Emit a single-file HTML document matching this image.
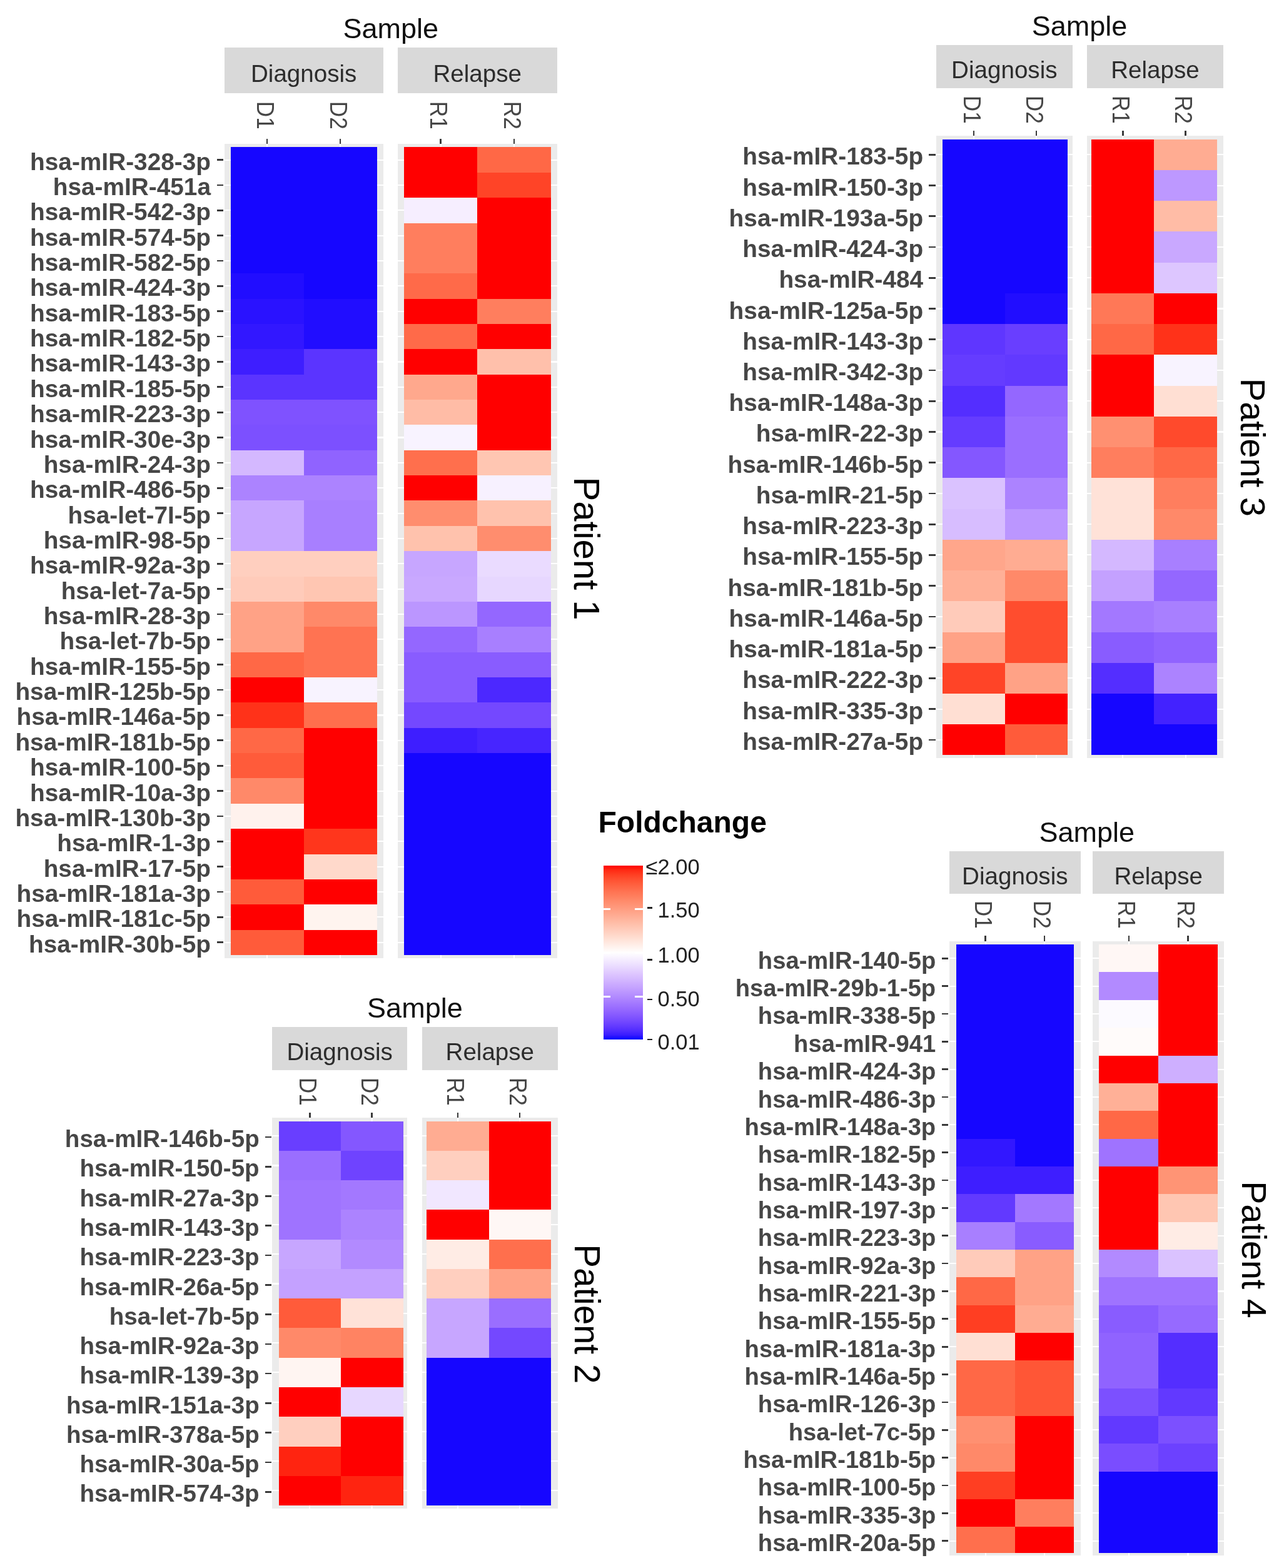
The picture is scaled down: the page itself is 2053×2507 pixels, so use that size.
<!DOCTYPE html>
<html><head><meta charset="utf-8"><title>Foldchange heatmaps</title>
<style>
html,body{margin:0;padding:0;background:#fff;}
body{width:2053px;height:2507px;position:relative;overflow:hidden;font-family:"Liberation Sans",Arial,sans-serif;}
body>div{position:absolute;}
.t{white-space:nowrap;}
</style></head><body>
<div style="left:358.7px;top:76.0px;width:254.0px;height:73.0px;background:#d9d9d9;"></div>
<div class="t" style="left:485.7px;width:0;display:flex;justify-content:center;top:99.3px;font-size:38.6px;line-height:38.6px;color:#2c2c2c;font-weight:normal;">Diagnosis</div>
<div style="left:635.7px;top:76.0px;width:255.1px;height:73.0px;background:#d9d9d9;"></div>
<div class="t" style="left:763.2px;width:0;display:flex;justify-content:center;top:99.3px;font-size:38.6px;line-height:38.6px;color:#2c2c2c;font-weight:normal;">Relapse</div>
<div class="t" style="left:624.8px;width:0;display:flex;justify-content:center;top:23.3px;font-size:45.0px;line-height:45.0px;color:#111;font-weight:normal;">Sample</div>
<div style="left:358.7px;top:230.0px;width:254.0px;height:1301.5px;background:#ebebeb;"></div>
<div style="left:358.7px;top:254.5px;width:254.0px;height:2.2px;background:#ffffff;"></div>
<div style="left:358.7px;top:294.8px;width:254.0px;height:2.2px;background:#ffffff;"></div>
<div style="left:358.7px;top:335.2px;width:254.0px;height:2.2px;background:#ffffff;"></div>
<div style="left:358.7px;top:375.6px;width:254.0px;height:2.2px;background:#ffffff;"></div>
<div style="left:358.7px;top:415.9px;width:254.0px;height:2.2px;background:#ffffff;"></div>
<div style="left:358.7px;top:456.3px;width:254.0px;height:2.2px;background:#ffffff;"></div>
<div style="left:358.7px;top:496.6px;width:254.0px;height:2.2px;background:#ffffff;"></div>
<div style="left:358.7px;top:537.0px;width:254.0px;height:2.2px;background:#ffffff;"></div>
<div style="left:358.7px;top:577.4px;width:254.0px;height:2.2px;background:#ffffff;"></div>
<div style="left:358.7px;top:617.7px;width:254.0px;height:2.2px;background:#ffffff;"></div>
<div style="left:358.7px;top:658.1px;width:254.0px;height:2.2px;background:#ffffff;"></div>
<div style="left:358.7px;top:698.4px;width:254.0px;height:2.2px;background:#ffffff;"></div>
<div style="left:358.7px;top:738.8px;width:254.0px;height:2.2px;background:#ffffff;"></div>
<div style="left:358.7px;top:779.2px;width:254.0px;height:2.2px;background:#ffffff;"></div>
<div style="left:358.7px;top:819.5px;width:254.0px;height:2.2px;background:#ffffff;"></div>
<div style="left:358.7px;top:859.9px;width:254.0px;height:2.2px;background:#ffffff;"></div>
<div style="left:358.7px;top:900.2px;width:254.0px;height:2.2px;background:#ffffff;"></div>
<div style="left:358.7px;top:940.6px;width:254.0px;height:2.2px;background:#ffffff;"></div>
<div style="left:358.7px;top:980.9px;width:254.0px;height:2.2px;background:#ffffff;"></div>
<div style="left:358.7px;top:1021.3px;width:254.0px;height:2.2px;background:#ffffff;"></div>
<div style="left:358.7px;top:1061.7px;width:254.0px;height:2.2px;background:#ffffff;"></div>
<div style="left:358.7px;top:1102.0px;width:254.0px;height:2.2px;background:#ffffff;"></div>
<div style="left:358.7px;top:1142.4px;width:254.0px;height:2.2px;background:#ffffff;"></div>
<div style="left:358.7px;top:1182.7px;width:254.0px;height:2.2px;background:#ffffff;"></div>
<div style="left:358.7px;top:1223.1px;width:254.0px;height:2.2px;background:#ffffff;"></div>
<div style="left:358.7px;top:1263.5px;width:254.0px;height:2.2px;background:#ffffff;"></div>
<div style="left:358.7px;top:1303.8px;width:254.0px;height:2.2px;background:#ffffff;"></div>
<div style="left:358.7px;top:1344.2px;width:254.0px;height:2.2px;background:#ffffff;"></div>
<div style="left:358.7px;top:1384.5px;width:254.0px;height:2.2px;background:#ffffff;"></div>
<div style="left:358.7px;top:1424.9px;width:254.0px;height:2.2px;background:#ffffff;"></div>
<div style="left:358.7px;top:1465.3px;width:254.0px;height:2.2px;background:#ffffff;"></div>
<div style="left:358.7px;top:1505.6px;width:254.0px;height:2.2px;background:#ffffff;"></div>
<div style="left:425.9px;top:230.0px;width:2.2px;height:1301.5px;background:#ffffff;"></div>
<div style="left:543.1px;top:230.0px;width:2.2px;height:1301.5px;background:#ffffff;"></div>
<div style="left:368.5px;top:235.4px;width:117.5px;height:40.8px;background:#1606ff;"></div>
<div style="left:485.6px;top:235.4px;width:117.5px;height:40.8px;background:#1606ff;"></div>
<div style="left:368.5px;top:275.8px;width:117.5px;height:40.8px;background:#1606ff;"></div>
<div style="left:485.6px;top:275.8px;width:117.5px;height:40.8px;background:#1606ff;"></div>
<div style="left:368.5px;top:316.1px;width:117.5px;height:40.8px;background:#1606ff;"></div>
<div style="left:485.6px;top:316.1px;width:117.5px;height:40.8px;background:#1606ff;"></div>
<div style="left:368.5px;top:356.5px;width:117.5px;height:40.8px;background:#1606ff;"></div>
<div style="left:485.6px;top:356.5px;width:117.5px;height:40.8px;background:#1606ff;"></div>
<div style="left:368.5px;top:396.8px;width:117.5px;height:40.8px;background:#1606ff;"></div>
<div style="left:485.6px;top:396.8px;width:117.5px;height:40.8px;background:#1606ff;"></div>
<div style="left:368.5px;top:437.2px;width:117.5px;height:40.8px;background:#210dff;"></div>
<div style="left:485.6px;top:437.2px;width:117.5px;height:40.8px;background:#1606ff;"></div>
<div style="left:368.5px;top:477.6px;width:117.5px;height:40.8px;background:#2a12ff;"></div>
<div style="left:485.6px;top:477.6px;width:117.5px;height:40.8px;background:#210dff;"></div>
<div style="left:368.5px;top:517.9px;width:117.5px;height:40.8px;background:#3217ff;"></div>
<div style="left:485.6px;top:517.9px;width:117.5px;height:40.8px;background:#210dff;"></div>
<div style="left:368.5px;top:558.3px;width:117.5px;height:40.8px;background:#3e1eff;"></div>
<div style="left:485.6px;top:558.3px;width:117.5px;height:40.8px;background:#5b34ff;"></div>
<div style="left:368.5px;top:598.6px;width:117.5px;height:40.8px;background:#5b34ff;"></div>
<div style="left:485.6px;top:598.6px;width:117.5px;height:40.8px;background:#5b34ff;"></div>
<div style="left:368.5px;top:639.0px;width:117.5px;height:40.8px;background:#7f52ff;"></div>
<div style="left:485.6px;top:639.0px;width:117.5px;height:40.8px;background:#7f52ff;"></div>
<div style="left:368.5px;top:679.4px;width:117.5px;height:40.8px;background:#7c50ff;"></div>
<div style="left:485.6px;top:679.4px;width:117.5px;height:40.8px;background:#7c50ff;"></div>
<div style="left:368.5px;top:719.7px;width:117.5px;height:40.8px;background:#d4b8ff;"></div>
<div style="left:485.6px;top:719.7px;width:117.5px;height:40.8px;background:#9063ff;"></div>
<div style="left:368.5px;top:760.1px;width:117.5px;height:40.8px;background:#ac83ff;"></div>
<div style="left:485.6px;top:760.1px;width:117.5px;height:40.8px;background:#ac83ff;"></div>
<div style="left:368.5px;top:800.4px;width:117.5px;height:40.8px;background:#c7a6ff;"></div>
<div style="left:485.6px;top:800.4px;width:117.5px;height:40.8px;background:#a87fff;"></div>
<div style="left:368.5px;top:840.8px;width:117.5px;height:40.8px;background:#c7a6ff;"></div>
<div style="left:485.6px;top:840.8px;width:117.5px;height:40.8px;background:#a87fff;"></div>
<div style="left:368.5px;top:881.1px;width:117.5px;height:40.8px;background:#ffcfbf;"></div>
<div style="left:485.6px;top:881.1px;width:117.5px;height:40.8px;background:#ffcfbf;"></div>
<div style="left:368.5px;top:921.5px;width:117.5px;height:40.8px;background:#ffcbba;"></div>
<div style="left:485.6px;top:921.5px;width:117.5px;height:40.8px;background:#ffc6b2;"></div>
<div style="left:368.5px;top:961.9px;width:117.5px;height:40.8px;background:#ffa286;"></div>
<div style="left:485.6px;top:961.9px;width:117.5px;height:40.8px;background:#ff8969;"></div>
<div style="left:368.5px;top:1002.2px;width:117.5px;height:40.8px;background:#ffa286;"></div>
<div style="left:485.6px;top:1002.2px;width:117.5px;height:40.8px;background:#ff7352;"></div>
<div style="left:368.5px;top:1042.6px;width:117.5px;height:40.8px;background:#ff6846;"></div>
<div style="left:485.6px;top:1042.6px;width:117.5px;height:40.8px;background:#ff7352;"></div>
<div style="left:368.5px;top:1082.9px;width:117.5px;height:40.8px;background:#ff0000;"></div>
<div style="left:485.6px;top:1082.9px;width:117.5px;height:40.8px;background:#f8f3ff;"></div>
<div style="left:368.5px;top:1123.3px;width:117.5px;height:40.8px;background:#ff3219;"></div>
<div style="left:485.6px;top:1123.3px;width:117.5px;height:40.8px;background:#ff6f4d;"></div>
<div style="left:368.5px;top:1163.7px;width:117.5px;height:40.8px;background:#ff6846;"></div>
<div style="left:485.6px;top:1163.7px;width:117.5px;height:40.8px;background:#ff0000;"></div>
<div style="left:368.5px;top:1204.0px;width:117.5px;height:40.8px;background:#ff5b3a;"></div>
<div style="left:485.6px;top:1204.0px;width:117.5px;height:40.8px;background:#ff0000;"></div>
<div style="left:368.5px;top:1244.4px;width:117.5px;height:40.8px;background:#ff8969;"></div>
<div style="left:485.6px;top:1244.4px;width:117.5px;height:40.8px;background:#ff0000;"></div>
<div style="left:368.5px;top:1284.7px;width:117.5px;height:40.8px;background:#fff2ed;"></div>
<div style="left:485.6px;top:1284.7px;width:117.5px;height:40.8px;background:#ff0000;"></div>
<div style="left:368.5px;top:1325.1px;width:117.5px;height:40.8px;background:#ff0000;"></div>
<div style="left:485.6px;top:1325.1px;width:117.5px;height:40.8px;background:#ff361c;"></div>
<div style="left:368.5px;top:1365.5px;width:117.5px;height:40.8px;background:#ff0000;"></div>
<div style="left:485.6px;top:1365.5px;width:117.5px;height:40.8px;background:#ffd9cb;"></div>
<div style="left:368.5px;top:1405.8px;width:117.5px;height:40.8px;background:#ff5b3a;"></div>
<div style="left:485.6px;top:1405.8px;width:117.5px;height:40.8px;background:#ff0000;"></div>
<div style="left:368.5px;top:1446.2px;width:117.5px;height:40.8px;background:#ff0000;"></div>
<div style="left:485.6px;top:1446.2px;width:117.5px;height:40.8px;background:#fff4ef;"></div>
<div style="left:368.5px;top:1486.5px;width:117.5px;height:40.4px;background:#ff5b3a;"></div>
<div style="left:485.6px;top:1486.5px;width:117.5px;height:40.4px;background:#ff0000;"></div>
<div style="left:425.8px;top:221.6px;width:2.6px;height:8.4px;background:#3a3a3a;"></div>
<div class="t" style="left:209.6px;top:174.3px;width:200px;text-align:right;font-size:38.6px;line-height:38.6px;color:#474747;transform-origin:200px 32.67px;transform:rotate(90deg) scaleX(0.910);">D1</div>
<div style="left:542.9px;top:221.6px;width:2.6px;height:8.4px;background:#3a3a3a;"></div>
<div class="t" style="left:326.7px;top:174.3px;width:200px;text-align:right;font-size:38.6px;line-height:38.6px;color:#474747;transform-origin:200px 32.67px;transform:rotate(90deg) scaleX(0.910);">D2</div>
<div style="left:635.7px;top:230.0px;width:255.1px;height:1301.5px;background:#ebebeb;"></div>
<div style="left:635.7px;top:254.5px;width:255.1px;height:2.2px;background:#ffffff;"></div>
<div style="left:635.7px;top:294.8px;width:255.1px;height:2.2px;background:#ffffff;"></div>
<div style="left:635.7px;top:335.2px;width:255.1px;height:2.2px;background:#ffffff;"></div>
<div style="left:635.7px;top:375.6px;width:255.1px;height:2.2px;background:#ffffff;"></div>
<div style="left:635.7px;top:415.9px;width:255.1px;height:2.2px;background:#ffffff;"></div>
<div style="left:635.7px;top:456.3px;width:255.1px;height:2.2px;background:#ffffff;"></div>
<div style="left:635.7px;top:496.6px;width:255.1px;height:2.2px;background:#ffffff;"></div>
<div style="left:635.7px;top:537.0px;width:255.1px;height:2.2px;background:#ffffff;"></div>
<div style="left:635.7px;top:577.4px;width:255.1px;height:2.2px;background:#ffffff;"></div>
<div style="left:635.7px;top:617.7px;width:255.1px;height:2.2px;background:#ffffff;"></div>
<div style="left:635.7px;top:658.1px;width:255.1px;height:2.2px;background:#ffffff;"></div>
<div style="left:635.7px;top:698.4px;width:255.1px;height:2.2px;background:#ffffff;"></div>
<div style="left:635.7px;top:738.8px;width:255.1px;height:2.2px;background:#ffffff;"></div>
<div style="left:635.7px;top:779.2px;width:255.1px;height:2.2px;background:#ffffff;"></div>
<div style="left:635.7px;top:819.5px;width:255.1px;height:2.2px;background:#ffffff;"></div>
<div style="left:635.7px;top:859.9px;width:255.1px;height:2.2px;background:#ffffff;"></div>
<div style="left:635.7px;top:900.2px;width:255.1px;height:2.2px;background:#ffffff;"></div>
<div style="left:635.7px;top:940.6px;width:255.1px;height:2.2px;background:#ffffff;"></div>
<div style="left:635.7px;top:980.9px;width:255.1px;height:2.2px;background:#ffffff;"></div>
<div style="left:635.7px;top:1021.3px;width:255.1px;height:2.2px;background:#ffffff;"></div>
<div style="left:635.7px;top:1061.7px;width:255.1px;height:2.2px;background:#ffffff;"></div>
<div style="left:635.7px;top:1102.0px;width:255.1px;height:2.2px;background:#ffffff;"></div>
<div style="left:635.7px;top:1142.4px;width:255.1px;height:2.2px;background:#ffffff;"></div>
<div style="left:635.7px;top:1182.7px;width:255.1px;height:2.2px;background:#ffffff;"></div>
<div style="left:635.7px;top:1223.1px;width:255.1px;height:2.2px;background:#ffffff;"></div>
<div style="left:635.7px;top:1263.5px;width:255.1px;height:2.2px;background:#ffffff;"></div>
<div style="left:635.7px;top:1303.8px;width:255.1px;height:2.2px;background:#ffffff;"></div>
<div style="left:635.7px;top:1344.2px;width:255.1px;height:2.2px;background:#ffffff;"></div>
<div style="left:635.7px;top:1384.5px;width:255.1px;height:2.2px;background:#ffffff;"></div>
<div style="left:635.7px;top:1424.9px;width:255.1px;height:2.2px;background:#ffffff;"></div>
<div style="left:635.7px;top:1465.3px;width:255.1px;height:2.2px;background:#ffffff;"></div>
<div style="left:635.7px;top:1505.6px;width:255.1px;height:2.2px;background:#ffffff;"></div>
<div style="left:703.6px;top:230.0px;width:2.2px;height:1301.5px;background:#ffffff;"></div>
<div style="left:820.9px;top:230.0px;width:2.2px;height:1301.5px;background:#ffffff;"></div>
<div style="left:646.1px;top:235.4px;width:117.6px;height:40.8px;background:#ff0000;"></div>
<div style="left:763.4px;top:235.4px;width:117.6px;height:40.8px;background:#ff6846;"></div>
<div style="left:646.1px;top:275.8px;width:117.6px;height:40.8px;background:#ff0000;"></div>
<div style="left:763.4px;top:275.8px;width:117.6px;height:40.8px;background:#ff4427;"></div>
<div style="left:646.1px;top:316.1px;width:117.6px;height:40.8px;background:#f6eeff;"></div>
<div style="left:763.4px;top:316.1px;width:117.6px;height:40.8px;background:#ff0000;"></div>
<div style="left:646.1px;top:356.5px;width:117.6px;height:40.8px;background:#ff7e5e;"></div>
<div style="left:763.4px;top:356.5px;width:117.6px;height:40.8px;background:#ff0000;"></div>
<div style="left:646.1px;top:396.8px;width:117.6px;height:40.8px;background:#ff7e5e;"></div>
<div style="left:763.4px;top:396.8px;width:117.6px;height:40.8px;background:#ff0000;"></div>
<div style="left:646.1px;top:437.2px;width:117.6px;height:40.8px;background:#ff6a49;"></div>
<div style="left:763.4px;top:437.2px;width:117.6px;height:40.8px;background:#ff0000;"></div>
<div style="left:646.1px;top:477.6px;width:117.6px;height:40.8px;background:#ff0000;"></div>
<div style="left:763.4px;top:477.6px;width:117.6px;height:40.8px;background:#ff7e5e;"></div>
<div style="left:646.1px;top:517.9px;width:117.6px;height:40.8px;background:#ff6a49;"></div>
<div style="left:763.4px;top:517.9px;width:117.6px;height:40.8px;background:#ff0000;"></div>
<div style="left:646.1px;top:558.3px;width:117.6px;height:40.8px;background:#ff0000;"></div>
<div style="left:763.4px;top:558.3px;width:117.6px;height:40.8px;background:#ffc0ab;"></div>
<div style="left:646.1px;top:598.6px;width:117.6px;height:40.8px;background:#ffa88d;"></div>
<div style="left:763.4px;top:598.6px;width:117.6px;height:40.8px;background:#ff0000;"></div>
<div style="left:646.1px;top:639.0px;width:117.6px;height:40.8px;background:#ffbca6;"></div>
<div style="left:763.4px;top:639.0px;width:117.6px;height:40.8px;background:#ff0000;"></div>
<div style="left:646.1px;top:679.4px;width:117.6px;height:40.8px;background:#f8f3ff;"></div>
<div style="left:763.4px;top:679.4px;width:117.6px;height:40.8px;background:#ff0000;"></div>
<div style="left:646.1px;top:719.7px;width:117.6px;height:40.8px;background:#ff6f4d;"></div>
<div style="left:763.4px;top:719.7px;width:117.6px;height:40.8px;background:#ffc6b2;"></div>
<div style="left:646.1px;top:760.1px;width:117.6px;height:40.8px;background:#ff0000;"></div>
<div style="left:763.4px;top:760.1px;width:117.6px;height:40.8px;background:#f7f1ff;"></div>
<div style="left:646.1px;top:800.4px;width:117.6px;height:40.8px;background:#ff8d6e;"></div>
<div style="left:763.4px;top:800.4px;width:117.6px;height:40.8px;background:#ffc2ad;"></div>
<div style="left:646.1px;top:840.8px;width:117.6px;height:40.8px;background:#ffc2ad;"></div>
<div style="left:763.4px;top:840.8px;width:117.6px;height:40.8px;background:#ff8d6e;"></div>
<div style="left:646.1px;top:881.1px;width:117.6px;height:40.8px;background:#c7a6ff;"></div>
<div style="left:763.4px;top:881.1px;width:117.6px;height:40.8px;background:#eadbff;"></div>
<div style="left:646.1px;top:921.5px;width:117.6px;height:40.8px;background:#c9a8ff;"></div>
<div style="left:763.4px;top:921.5px;width:117.6px;height:40.8px;background:#e7d7ff;"></div>
<div style="left:646.1px;top:961.9px;width:117.6px;height:40.8px;background:#bb96ff;"></div>
<div style="left:763.4px;top:961.9px;width:117.6px;height:40.8px;background:#9467ff;"></div>
<div style="left:646.1px;top:1002.2px;width:117.6px;height:40.8px;background:#9467ff;"></div>
<div style="left:763.4px;top:1002.2px;width:117.6px;height:40.8px;background:#a87fff;"></div>
<div style="left:646.1px;top:1042.6px;width:117.6px;height:40.8px;background:#895cff;"></div>
<div style="left:763.4px;top:1042.6px;width:117.6px;height:40.8px;background:#895cff;"></div>
<div style="left:646.1px;top:1082.9px;width:117.6px;height:40.8px;background:#895cff;"></div>
<div style="left:763.4px;top:1082.9px;width:117.6px;height:40.8px;background:#4c28ff;"></div>
<div style="left:646.1px;top:1123.3px;width:117.6px;height:40.8px;background:#7448ff;"></div>
<div style="left:763.4px;top:1123.3px;width:117.6px;height:40.8px;background:#7448ff;"></div>
<div style="left:646.1px;top:1163.7px;width:117.6px;height:40.8px;background:#3e1eff;"></div>
<div style="left:763.4px;top:1163.7px;width:117.6px;height:40.8px;background:#4725ff;"></div>
<div style="left:646.1px;top:1204.0px;width:117.6px;height:40.8px;background:#1606ff;"></div>
<div style="left:763.4px;top:1204.0px;width:117.6px;height:40.8px;background:#1606ff;"></div>
<div style="left:646.1px;top:1244.4px;width:117.6px;height:40.8px;background:#1606ff;"></div>
<div style="left:763.4px;top:1244.4px;width:117.6px;height:40.8px;background:#1606ff;"></div>
<div style="left:646.1px;top:1284.7px;width:117.6px;height:40.8px;background:#1606ff;"></div>
<div style="left:763.4px;top:1284.7px;width:117.6px;height:40.8px;background:#1606ff;"></div>
<div style="left:646.1px;top:1325.1px;width:117.6px;height:40.8px;background:#1606ff;"></div>
<div style="left:763.4px;top:1325.1px;width:117.6px;height:40.8px;background:#1606ff;"></div>
<div style="left:646.1px;top:1365.5px;width:117.6px;height:40.8px;background:#1606ff;"></div>
<div style="left:763.4px;top:1365.5px;width:117.6px;height:40.8px;background:#1606ff;"></div>
<div style="left:646.1px;top:1405.8px;width:117.6px;height:40.8px;background:#1606ff;"></div>
<div style="left:763.4px;top:1405.8px;width:117.6px;height:40.8px;background:#1606ff;"></div>
<div style="left:646.1px;top:1446.2px;width:117.6px;height:40.8px;background:#1606ff;"></div>
<div style="left:763.4px;top:1446.2px;width:117.6px;height:40.8px;background:#1606ff;"></div>
<div style="left:646.1px;top:1486.5px;width:117.6px;height:40.4px;background:#1606ff;"></div>
<div style="left:763.4px;top:1486.5px;width:117.6px;height:40.4px;background:#1606ff;"></div>
<div style="left:703.4px;top:221.6px;width:2.6px;height:8.4px;background:#3a3a3a;"></div>
<div class="t" style="left:487.2px;top:174.3px;width:200px;text-align:right;font-size:38.6px;line-height:38.6px;color:#474747;transform-origin:200px 32.67px;transform:rotate(90deg) scaleX(0.910);">R1</div>
<div style="left:820.7px;top:221.6px;width:2.6px;height:8.4px;background:#3a3a3a;"></div>
<div class="t" style="left:604.5px;top:174.3px;width:200px;text-align:right;font-size:38.6px;line-height:38.6px;color:#474747;transform-origin:200px 32.67px;transform:rotate(90deg) scaleX(0.910);">R2</div>
<div style="left:346.5px;top:254.2px;width:10.1px;height:2.8px;background:#3a3a3a;"></div>
<div class="t" style="right:1716.0px;top:239.5px;font-size:38.8px;line-height:38.8px;color:#464646;font-weight:bold;">hsa-mIR-328-3p</div>
<div style="left:346.5px;top:294.5px;width:10.1px;height:2.8px;background:#3a3a3a;"></div>
<div class="t" style="right:1716.0px;top:279.9px;font-size:38.8px;line-height:38.8px;color:#464646;font-weight:bold;">hsa-mIR-451a</div>
<div style="left:346.5px;top:334.9px;width:10.1px;height:2.8px;background:#3a3a3a;"></div>
<div class="t" style="right:1716.0px;top:320.3px;font-size:38.8px;line-height:38.8px;color:#464646;font-weight:bold;">hsa-mIR-542-3p</div>
<div style="left:346.5px;top:375.3px;width:10.1px;height:2.8px;background:#3a3a3a;"></div>
<div class="t" style="right:1716.0px;top:360.6px;font-size:38.8px;line-height:38.8px;color:#464646;font-weight:bold;">hsa-mIR-574-5p</div>
<div style="left:346.5px;top:415.6px;width:10.1px;height:2.8px;background:#3a3a3a;"></div>
<div class="t" style="right:1716.0px;top:401.0px;font-size:38.8px;line-height:38.8px;color:#464646;font-weight:bold;">hsa-mIR-582-5p</div>
<div style="left:346.5px;top:456.0px;width:10.1px;height:2.8px;background:#3a3a3a;"></div>
<div class="t" style="right:1716.0px;top:441.3px;font-size:38.8px;line-height:38.8px;color:#464646;font-weight:bold;">hsa-mIR-424-3p</div>
<div style="left:346.5px;top:496.3px;width:10.1px;height:2.8px;background:#3a3a3a;"></div>
<div class="t" style="right:1716.0px;top:481.7px;font-size:38.8px;line-height:38.8px;color:#464646;font-weight:bold;">hsa-mIR-183-5p</div>
<div style="left:346.5px;top:536.7px;width:10.1px;height:2.8px;background:#3a3a3a;"></div>
<div class="t" style="right:1716.0px;top:522.1px;font-size:38.8px;line-height:38.8px;color:#464646;font-weight:bold;">hsa-mIR-182-5p</div>
<div style="left:346.5px;top:577.1px;width:10.1px;height:2.8px;background:#3a3a3a;"></div>
<div class="t" style="right:1716.0px;top:562.4px;font-size:38.8px;line-height:38.8px;color:#464646;font-weight:bold;">hsa-mIR-143-3p</div>
<div style="left:346.5px;top:617.4px;width:10.1px;height:2.8px;background:#3a3a3a;"></div>
<div class="t" style="right:1716.0px;top:602.8px;font-size:38.8px;line-height:38.8px;color:#464646;font-weight:bold;">hsa-mIR-185-5p</div>
<div style="left:346.5px;top:657.8px;width:10.1px;height:2.8px;background:#3a3a3a;"></div>
<div class="t" style="right:1716.0px;top:643.1px;font-size:38.8px;line-height:38.8px;color:#464646;font-weight:bold;">hsa-mIR-223-3p</div>
<div style="left:346.5px;top:698.1px;width:10.1px;height:2.8px;background:#3a3a3a;"></div>
<div class="t" style="right:1716.0px;top:683.5px;font-size:38.8px;line-height:38.8px;color:#464646;font-weight:bold;">hsa-mIR-30e-3p</div>
<div style="left:346.5px;top:738.5px;width:10.1px;height:2.8px;background:#3a3a3a;"></div>
<div class="t" style="right:1716.0px;top:723.8px;font-size:38.8px;line-height:38.8px;color:#464646;font-weight:bold;">hsa-mIR-24-3p</div>
<div style="left:346.5px;top:778.9px;width:10.1px;height:2.8px;background:#3a3a3a;"></div>
<div class="t" style="right:1716.0px;top:764.2px;font-size:38.8px;line-height:38.8px;color:#464646;font-weight:bold;">hsa-mIR-486-5p</div>
<div style="left:346.5px;top:819.2px;width:10.1px;height:2.8px;background:#3a3a3a;"></div>
<div class="t" style="right:1716.0px;top:804.6px;font-size:38.8px;line-height:38.8px;color:#464646;font-weight:bold;">hsa-let-7I-5p</div>
<div style="left:346.5px;top:859.6px;width:10.1px;height:2.8px;background:#3a3a3a;"></div>
<div class="t" style="right:1716.0px;top:844.9px;font-size:38.8px;line-height:38.8px;color:#464646;font-weight:bold;">hsa-mIR-98-5p</div>
<div style="left:346.5px;top:899.9px;width:10.1px;height:2.8px;background:#3a3a3a;"></div>
<div class="t" style="right:1716.0px;top:885.3px;font-size:38.8px;line-height:38.8px;color:#464646;font-weight:bold;">hsa-mIR-92a-3p</div>
<div style="left:346.5px;top:940.3px;width:10.1px;height:2.8px;background:#3a3a3a;"></div>
<div class="t" style="right:1716.0px;top:925.6px;font-size:38.8px;line-height:38.8px;color:#464646;font-weight:bold;">hsa-let-7a-5p</div>
<div style="left:346.5px;top:980.6px;width:10.1px;height:2.8px;background:#3a3a3a;"></div>
<div class="t" style="right:1716.0px;top:966.0px;font-size:38.8px;line-height:38.8px;color:#464646;font-weight:bold;">hsa-mIR-28-3p</div>
<div style="left:346.5px;top:1021.0px;width:10.1px;height:2.8px;background:#3a3a3a;"></div>
<div class="t" style="right:1716.0px;top:1006.4px;font-size:38.8px;line-height:38.8px;color:#464646;font-weight:bold;">hsa-let-7b-5p</div>
<div style="left:346.5px;top:1061.4px;width:10.1px;height:2.8px;background:#3a3a3a;"></div>
<div class="t" style="right:1716.0px;top:1046.7px;font-size:38.8px;line-height:38.8px;color:#464646;font-weight:bold;">hsa-mIR-155-5p</div>
<div style="left:346.5px;top:1101.7px;width:10.1px;height:2.8px;background:#3a3a3a;"></div>
<div class="t" style="right:1716.0px;top:1087.1px;font-size:38.8px;line-height:38.8px;color:#464646;font-weight:bold;">hsa-mIR-125b-5p</div>
<div style="left:346.5px;top:1142.1px;width:10.1px;height:2.8px;background:#3a3a3a;"></div>
<div class="t" style="right:1716.0px;top:1127.4px;font-size:38.8px;line-height:38.8px;color:#464646;font-weight:bold;">hsa-mIR-146a-5p</div>
<div style="left:346.5px;top:1182.4px;width:10.1px;height:2.8px;background:#3a3a3a;"></div>
<div class="t" style="right:1716.0px;top:1167.8px;font-size:38.8px;line-height:38.8px;color:#464646;font-weight:bold;">hsa-mIR-181b-5p</div>
<div style="left:346.5px;top:1222.8px;width:10.1px;height:2.8px;background:#3a3a3a;"></div>
<div class="t" style="right:1716.0px;top:1208.2px;font-size:38.8px;line-height:38.8px;color:#464646;font-weight:bold;">hsa-mIR-100-5p</div>
<div style="left:346.5px;top:1263.2px;width:10.1px;height:2.8px;background:#3a3a3a;"></div>
<div class="t" style="right:1716.0px;top:1248.5px;font-size:38.8px;line-height:38.8px;color:#464646;font-weight:bold;">hsa-mIR-10a-3p</div>
<div style="left:346.5px;top:1303.5px;width:10.1px;height:2.8px;background:#3a3a3a;"></div>
<div class="t" style="right:1716.0px;top:1288.9px;font-size:38.8px;line-height:38.8px;color:#464646;font-weight:bold;">hsa-mIR-130b-3p</div>
<div style="left:346.5px;top:1343.9px;width:10.1px;height:2.8px;background:#3a3a3a;"></div>
<div class="t" style="right:1716.0px;top:1329.2px;font-size:38.8px;line-height:38.8px;color:#464646;font-weight:bold;">hsa-mIR-1-3p</div>
<div style="left:346.5px;top:1384.2px;width:10.1px;height:2.8px;background:#3a3a3a;"></div>
<div class="t" style="right:1716.0px;top:1369.6px;font-size:38.8px;line-height:38.8px;color:#464646;font-weight:bold;">hsa-mIR-17-5p</div>
<div style="left:346.5px;top:1424.6px;width:10.1px;height:2.8px;background:#3a3a3a;"></div>
<div class="t" style="right:1716.0px;top:1410.0px;font-size:38.8px;line-height:38.8px;color:#464646;font-weight:bold;">hsa-mIR-181a-3p</div>
<div style="left:346.5px;top:1465.0px;width:10.1px;height:2.8px;background:#3a3a3a;"></div>
<div class="t" style="right:1716.0px;top:1450.3px;font-size:38.8px;line-height:38.8px;color:#464646;font-weight:bold;">hsa-mIR-181c-5p</div>
<div style="left:346.5px;top:1505.3px;width:10.1px;height:2.8px;background:#3a3a3a;"></div>
<div class="t" style="right:1716.0px;top:1490.7px;font-size:38.8px;line-height:38.8px;color:#464646;font-weight:bold;">hsa-mIR-30b-5p</div>
<div class="t" style="left:917.6px;top:627.5px;width:400px;text-align:center;font-size:58.0px;line-height:58.0px;color:#000;font-weight:normal;transform-origin:0 49.10px;transform:rotate(90deg);">Patient 1</div>
<div style="left:435.0px;top:1642.0px;width:216.3px;height:69.0px;background:#d9d9d9;"></div>
<div class="t" style="left:543.1px;width:0;display:flex;justify-content:center;top:1663.3px;font-size:38.6px;line-height:38.6px;color:#2c2c2c;font-weight:normal;">Diagnosis</div>
<div style="left:674.9px;top:1642.0px;width:216.9px;height:69.0px;background:#d9d9d9;"></div>
<div class="t" style="left:783.3px;width:0;display:flex;justify-content:center;top:1663.3px;font-size:38.6px;line-height:38.6px;color:#2c2c2c;font-weight:normal;">Relapse</div>
<div class="t" style="left:663.4px;width:0;display:flex;justify-content:center;top:1589.3px;font-size:45.0px;line-height:45.0px;color:#111;font-weight:normal;">Sample</div>
<div style="left:435.0px;top:1787.4px;width:216.3px;height:624.6px;background:#ebebeb;"></div>
<div style="left:435.0px;top:1815.1px;width:216.3px;height:2.2px;background:#ffffff;"></div>
<div style="left:435.0px;top:1862.4px;width:216.3px;height:2.2px;background:#ffffff;"></div>
<div style="left:435.0px;top:1909.7px;width:216.3px;height:2.2px;background:#ffffff;"></div>
<div style="left:435.0px;top:1956.9px;width:216.3px;height:2.2px;background:#ffffff;"></div>
<div style="left:435.0px;top:2004.2px;width:216.3px;height:2.2px;background:#ffffff;"></div>
<div style="left:435.0px;top:2051.4px;width:216.3px;height:2.2px;background:#ffffff;"></div>
<div style="left:435.0px;top:2098.7px;width:216.3px;height:2.2px;background:#ffffff;"></div>
<div style="left:435.0px;top:2146.0px;width:216.3px;height:2.2px;background:#ffffff;"></div>
<div style="left:435.0px;top:2193.2px;width:216.3px;height:2.2px;background:#ffffff;"></div>
<div style="left:435.0px;top:2240.5px;width:216.3px;height:2.2px;background:#ffffff;"></div>
<div style="left:435.0px;top:2287.7px;width:216.3px;height:2.2px;background:#ffffff;"></div>
<div style="left:435.0px;top:2335.0px;width:216.3px;height:2.2px;background:#ffffff;"></div>
<div style="left:435.0px;top:2382.3px;width:216.3px;height:2.2px;background:#ffffff;"></div>
<div style="left:494.3px;top:1787.4px;width:2.2px;height:624.6px;background:#ffffff;"></div>
<div style="left:593.4px;top:1787.4px;width:2.2px;height:624.6px;background:#ffffff;"></div>
<div style="left:445.9px;top:1792.6px;width:99.5px;height:47.7px;background:#693eff;"></div>
<div style="left:545.0px;top:1792.6px;width:99.5px;height:47.7px;background:#8457ff;"></div>
<div style="left:445.9px;top:1839.9px;width:99.5px;height:47.7px;background:#9a6eff;"></div>
<div style="left:545.0px;top:1839.9px;width:99.5px;height:47.7px;background:#6f43ff;"></div>
<div style="left:445.9px;top:1887.1px;width:99.5px;height:47.7px;background:#9f73ff;"></div>
<div style="left:545.0px;top:1887.1px;width:99.5px;height:47.7px;background:#a378ff;"></div>
<div style="left:445.9px;top:1934.4px;width:99.5px;height:47.7px;background:#9f73ff;"></div>
<div style="left:545.0px;top:1934.4px;width:99.5px;height:47.7px;background:#ac83ff;"></div>
<div style="left:445.9px;top:1981.6px;width:99.5px;height:47.7px;background:#c7a6ff;"></div>
<div style="left:545.0px;top:1981.6px;width:99.5px;height:47.7px;background:#b28aff;"></div>
<div style="left:445.9px;top:2028.9px;width:99.5px;height:47.7px;background:#c4a1ff;"></div>
<div style="left:545.0px;top:2028.9px;width:99.5px;height:47.7px;background:#c4a1ff;"></div>
<div style="left:445.9px;top:2076.2px;width:99.5px;height:47.7px;background:#ff5b3a;"></div>
<div style="left:545.0px;top:2076.2px;width:99.5px;height:47.7px;background:#ffe2d8;"></div>
<div style="left:445.9px;top:2123.4px;width:99.5px;height:47.7px;background:#ff8969;"></div>
<div style="left:545.0px;top:2123.4px;width:99.5px;height:47.7px;background:#ff8362;"></div>
<div style="left:445.9px;top:2170.7px;width:99.5px;height:47.7px;background:#fff5f2;"></div>
<div style="left:545.0px;top:2170.7px;width:99.5px;height:47.7px;background:#ff0000;"></div>
<div style="left:445.9px;top:2218.0px;width:99.5px;height:47.7px;background:#ff0000;"></div>
<div style="left:545.0px;top:2218.0px;width:99.5px;height:47.7px;background:#e7d7ff;"></div>
<div style="left:445.9px;top:2265.2px;width:99.5px;height:47.7px;background:#ffcfbf;"></div>
<div style="left:545.0px;top:2265.2px;width:99.5px;height:47.7px;background:#ff0000;"></div>
<div style="left:445.9px;top:2312.5px;width:99.5px;height:47.7px;background:#ff2410;"></div>
<div style="left:545.0px;top:2312.5px;width:99.5px;height:47.7px;background:#ff0000;"></div>
<div style="left:445.9px;top:2359.7px;width:99.5px;height:47.3px;background:#ff0000;"></div>
<div style="left:545.0px;top:2359.7px;width:99.5px;height:47.3px;background:#ff2410;"></div>
<div style="left:494.1px;top:1779.0px;width:2.6px;height:8.4px;background:#3a3a3a;"></div>
<div class="t" style="left:277.9px;top:1734.7px;width:200px;text-align:right;font-size:38.6px;line-height:38.6px;color:#474747;transform-origin:200px 32.67px;transform:rotate(90deg) scaleX(0.910);">D1</div>
<div style="left:593.2px;top:1779.0px;width:2.6px;height:8.4px;background:#3a3a3a;"></div>
<div class="t" style="left:377.0px;top:1734.7px;width:200px;text-align:right;font-size:38.6px;line-height:38.6px;color:#474747;transform-origin:200px 32.67px;transform:rotate(90deg) scaleX(0.910);">D2</div>
<div style="left:674.9px;top:1787.4px;width:216.9px;height:624.6px;background:#ebebeb;"></div>
<div style="left:674.9px;top:1815.1px;width:216.9px;height:2.2px;background:#ffffff;"></div>
<div style="left:674.9px;top:1862.4px;width:216.9px;height:2.2px;background:#ffffff;"></div>
<div style="left:674.9px;top:1909.7px;width:216.9px;height:2.2px;background:#ffffff;"></div>
<div style="left:674.9px;top:1956.9px;width:216.9px;height:2.2px;background:#ffffff;"></div>
<div style="left:674.9px;top:2004.2px;width:216.9px;height:2.2px;background:#ffffff;"></div>
<div style="left:674.9px;top:2051.4px;width:216.9px;height:2.2px;background:#ffffff;"></div>
<div style="left:674.9px;top:2098.7px;width:216.9px;height:2.2px;background:#ffffff;"></div>
<div style="left:674.9px;top:2146.0px;width:216.9px;height:2.2px;background:#ffffff;"></div>
<div style="left:674.9px;top:2193.2px;width:216.9px;height:2.2px;background:#ffffff;"></div>
<div style="left:674.9px;top:2240.5px;width:216.9px;height:2.2px;background:#ffffff;"></div>
<div style="left:674.9px;top:2287.7px;width:216.9px;height:2.2px;background:#ffffff;"></div>
<div style="left:674.9px;top:2335.0px;width:216.9px;height:2.2px;background:#ffffff;"></div>
<div style="left:674.9px;top:2382.3px;width:216.9px;height:2.2px;background:#ffffff;"></div>
<div style="left:730.7px;top:1787.4px;width:2.2px;height:624.6px;background:#ffffff;"></div>
<div style="left:830.0px;top:1787.4px;width:2.2px;height:624.6px;background:#ffffff;"></div>
<div style="left:682.1px;top:1792.6px;width:99.8px;height:47.7px;background:#ffac92;"></div>
<div style="left:781.5px;top:1792.6px;width:99.7px;height:47.7px;background:#ff0000;"></div>
<div style="left:682.1px;top:1839.9px;width:99.8px;height:47.7px;background:#ffcfbf;"></div>
<div style="left:781.5px;top:1839.9px;width:99.7px;height:47.7px;background:#ff0000;"></div>
<div style="left:682.1px;top:1887.1px;width:99.8px;height:47.7px;background:#f1e7ff;"></div>
<div style="left:781.5px;top:1887.1px;width:99.7px;height:47.7px;background:#ff0000;"></div>
<div style="left:682.1px;top:1934.4px;width:99.8px;height:47.7px;background:#ff0000;"></div>
<div style="left:781.5px;top:1934.4px;width:99.7px;height:47.7px;background:#fff7f5;"></div>
<div style="left:682.1px;top:1981.6px;width:99.8px;height:47.7px;background:#ffece5;"></div>
<div style="left:781.5px;top:1981.6px;width:99.7px;height:47.7px;background:#ff6f4d;"></div>
<div style="left:682.1px;top:2028.9px;width:99.8px;height:47.7px;background:#ffcfbf;"></div>
<div style="left:781.5px;top:2028.9px;width:99.7px;height:47.7px;background:#ffa286;"></div>
<div style="left:682.1px;top:2076.2px;width:99.8px;height:47.7px;background:#c7a6ff;"></div>
<div style="left:781.5px;top:2076.2px;width:99.7px;height:47.7px;background:#9a6eff;"></div>
<div style="left:682.1px;top:2123.4px;width:99.8px;height:47.7px;background:#c7a6ff;"></div>
<div style="left:781.5px;top:2123.4px;width:99.7px;height:47.7px;background:#7448ff;"></div>
<div style="left:682.1px;top:2170.7px;width:99.8px;height:47.7px;background:#1606ff;"></div>
<div style="left:781.5px;top:2170.7px;width:99.7px;height:47.7px;background:#1606ff;"></div>
<div style="left:682.1px;top:2218.0px;width:99.8px;height:47.7px;background:#1606ff;"></div>
<div style="left:781.5px;top:2218.0px;width:99.7px;height:47.7px;background:#1606ff;"></div>
<div style="left:682.1px;top:2265.2px;width:99.8px;height:47.7px;background:#1606ff;"></div>
<div style="left:781.5px;top:2265.2px;width:99.7px;height:47.7px;background:#1606ff;"></div>
<div style="left:682.1px;top:2312.5px;width:99.8px;height:47.7px;background:#1606ff;"></div>
<div style="left:781.5px;top:2312.5px;width:99.7px;height:47.7px;background:#1606ff;"></div>
<div style="left:682.1px;top:2359.7px;width:99.8px;height:47.3px;background:#1606ff;"></div>
<div style="left:781.5px;top:2359.7px;width:99.7px;height:47.3px;background:#1606ff;"></div>
<div style="left:730.5px;top:1779.0px;width:2.6px;height:8.4px;background:#3a3a3a;"></div>
<div class="t" style="left:514.3px;top:1734.7px;width:200px;text-align:right;font-size:38.6px;line-height:38.6px;color:#474747;transform-origin:200px 32.67px;transform:rotate(90deg) scaleX(0.910);">R1</div>
<div style="left:829.8px;top:1779.0px;width:2.6px;height:8.4px;background:#3a3a3a;"></div>
<div class="t" style="left:613.6px;top:1734.7px;width:200px;text-align:right;font-size:38.6px;line-height:38.6px;color:#474747;transform-origin:200px 32.67px;transform:rotate(90deg) scaleX(0.910);">R2</div>
<div style="left:424.3px;top:1816.6px;width:10.0px;height:2.8px;background:#3a3a3a;"></div>
<div class="t" style="right:1638.3px;top:1802.2px;font-size:38.6px;line-height:38.6px;color:#464646;font-weight:bold;">hsa-mIR-146b-5p</div>
<div style="left:424.3px;top:1863.9px;width:10.0px;height:2.8px;background:#3a3a3a;"></div>
<div class="t" style="right:1638.3px;top:1849.4px;font-size:38.6px;line-height:38.6px;color:#464646;font-weight:bold;">hsa-mIR-150-5p</div>
<div style="left:424.3px;top:1911.2px;width:10.0px;height:2.8px;background:#3a3a3a;"></div>
<div class="t" style="right:1638.3px;top:1896.7px;font-size:38.6px;line-height:38.6px;color:#464646;font-weight:bold;">hsa-mIR-27a-3p</div>
<div style="left:424.3px;top:1958.4px;width:10.0px;height:2.8px;background:#3a3a3a;"></div>
<div class="t" style="right:1638.3px;top:1943.9px;font-size:38.6px;line-height:38.6px;color:#464646;font-weight:bold;">hsa-mIR-143-3p</div>
<div style="left:424.3px;top:2005.7px;width:10.0px;height:2.8px;background:#3a3a3a;"></div>
<div class="t" style="right:1638.3px;top:1991.2px;font-size:38.6px;line-height:38.6px;color:#464646;font-weight:bold;">hsa-mIR-223-3p</div>
<div style="left:424.3px;top:2052.9px;width:10.0px;height:2.8px;background:#3a3a3a;"></div>
<div class="t" style="right:1638.3px;top:2038.5px;font-size:38.6px;line-height:38.6px;color:#464646;font-weight:bold;">hsa-mIR-26a-5p</div>
<div style="left:424.3px;top:2100.2px;width:10.0px;height:2.8px;background:#3a3a3a;"></div>
<div class="t" style="right:1638.3px;top:2085.7px;font-size:38.6px;line-height:38.6px;color:#464646;font-weight:bold;">hsa-let-7b-5p</div>
<div style="left:424.3px;top:2147.5px;width:10.0px;height:2.8px;background:#3a3a3a;"></div>
<div class="t" style="right:1638.3px;top:2133.0px;font-size:38.6px;line-height:38.6px;color:#464646;font-weight:bold;">hsa-mIR-92a-3p</div>
<div style="left:424.3px;top:2194.7px;width:10.0px;height:2.8px;background:#3a3a3a;"></div>
<div class="t" style="right:1638.3px;top:2180.2px;font-size:38.6px;line-height:38.6px;color:#464646;font-weight:bold;">hsa-mIR-139-3p</div>
<div style="left:424.3px;top:2242.0px;width:10.0px;height:2.8px;background:#3a3a3a;"></div>
<div class="t" style="right:1638.3px;top:2227.5px;font-size:38.6px;line-height:38.6px;color:#464646;font-weight:bold;">hsa-mIR-151a-3p</div>
<div style="left:424.3px;top:2289.2px;width:10.0px;height:2.8px;background:#3a3a3a;"></div>
<div class="t" style="right:1638.3px;top:2274.8px;font-size:38.6px;line-height:38.6px;color:#464646;font-weight:bold;">hsa-mIR-378a-5p</div>
<div style="left:424.3px;top:2336.5px;width:10.0px;height:2.8px;background:#3a3a3a;"></div>
<div class="t" style="right:1638.3px;top:2322.0px;font-size:38.6px;line-height:38.6px;color:#464646;font-weight:bold;">hsa-mIR-30a-5p</div>
<div style="left:424.3px;top:2383.8px;width:10.0px;height:2.8px;background:#3a3a3a;"></div>
<div class="t" style="right:1638.3px;top:2369.3px;font-size:38.6px;line-height:38.6px;color:#464646;font-weight:bold;">hsa-mIR-574-3p</div>
<div class="t" style="left:918.4px;top:1852.9px;width:400px;text-align:center;font-size:56.5px;line-height:56.5px;color:#000;font-weight:normal;transform-origin:0 47.83px;transform:rotate(90deg);">Patient 2</div>
<div style="left:1496.5px;top:72.0px;width:218.7px;height:69.0px;background:#d9d9d9;"></div>
<div class="t" style="left:1605.8px;width:0;display:flex;justify-content:center;top:93.3px;font-size:38.6px;line-height:38.6px;color:#2c2c2c;font-weight:normal;">Diagnosis</div>
<div style="left:1738.2px;top:72.0px;width:217.5px;height:69.0px;background:#d9d9d9;"></div>
<div class="t" style="left:1847.0px;width:0;display:flex;justify-content:center;top:93.3px;font-size:38.6px;line-height:38.6px;color:#2c2c2c;font-weight:normal;">Relapse</div>
<div class="t" style="left:1726.1px;width:0;display:flex;justify-content:center;top:19.3px;font-size:45.0px;line-height:45.0px;color:#111;font-weight:normal;">Sample</div>
<div style="left:1496.5px;top:217.4px;width:218.7px;height:994.4px;background:#ebebeb;"></div>
<div style="left:1496.5px;top:246.2px;width:218.7px;height:2.2px;background:#ffffff;"></div>
<div style="left:1496.5px;top:295.5px;width:218.7px;height:2.2px;background:#ffffff;"></div>
<div style="left:1496.5px;top:344.7px;width:218.7px;height:2.2px;background:#ffffff;"></div>
<div style="left:1496.5px;top:393.9px;width:218.7px;height:2.2px;background:#ffffff;"></div>
<div style="left:1496.5px;top:443.2px;width:218.7px;height:2.2px;background:#ffffff;"></div>
<div style="left:1496.5px;top:492.4px;width:218.7px;height:2.2px;background:#ffffff;"></div>
<div style="left:1496.5px;top:541.7px;width:218.7px;height:2.2px;background:#ffffff;"></div>
<div style="left:1496.5px;top:590.9px;width:218.7px;height:2.2px;background:#ffffff;"></div>
<div style="left:1496.5px;top:640.1px;width:218.7px;height:2.2px;background:#ffffff;"></div>
<div style="left:1496.5px;top:689.4px;width:218.7px;height:2.2px;background:#ffffff;"></div>
<div style="left:1496.5px;top:738.6px;width:218.7px;height:2.2px;background:#ffffff;"></div>
<div style="left:1496.5px;top:787.9px;width:218.7px;height:2.2px;background:#ffffff;"></div>
<div style="left:1496.5px;top:837.1px;width:218.7px;height:2.2px;background:#ffffff;"></div>
<div style="left:1496.5px;top:886.3px;width:218.7px;height:2.2px;background:#ffffff;"></div>
<div style="left:1496.5px;top:935.6px;width:218.7px;height:2.2px;background:#ffffff;"></div>
<div style="left:1496.5px;top:984.8px;width:218.7px;height:2.2px;background:#ffffff;"></div>
<div style="left:1496.5px;top:1034.1px;width:218.7px;height:2.2px;background:#ffffff;"></div>
<div style="left:1496.5px;top:1083.3px;width:218.7px;height:2.2px;background:#ffffff;"></div>
<div style="left:1496.5px;top:1132.5px;width:218.7px;height:2.2px;background:#ffffff;"></div>
<div style="left:1496.5px;top:1181.8px;width:218.7px;height:2.2px;background:#ffffff;"></div>
<div style="left:1555.9px;top:217.4px;width:2.2px;height:994.4px;background:#ffffff;"></div>
<div style="left:1655.9px;top:217.4px;width:2.2px;height:994.4px;background:#ffffff;"></div>
<div style="left:1507.0px;top:222.7px;width:100.4px;height:49.6px;background:#1606ff;"></div>
<div style="left:1607.0px;top:222.7px;width:100.4px;height:49.6px;background:#1606ff;"></div>
<div style="left:1507.0px;top:271.9px;width:100.4px;height:49.6px;background:#1606ff;"></div>
<div style="left:1607.0px;top:271.9px;width:100.4px;height:49.6px;background:#1606ff;"></div>
<div style="left:1507.0px;top:321.2px;width:100.4px;height:49.6px;background:#1606ff;"></div>
<div style="left:1607.0px;top:321.2px;width:100.4px;height:49.6px;background:#1606ff;"></div>
<div style="left:1507.0px;top:370.4px;width:100.4px;height:49.6px;background:#1606ff;"></div>
<div style="left:1607.0px;top:370.4px;width:100.4px;height:49.6px;background:#1606ff;"></div>
<div style="left:1507.0px;top:419.7px;width:100.4px;height:49.6px;background:#1606ff;"></div>
<div style="left:1607.0px;top:419.7px;width:100.4px;height:49.6px;background:#1606ff;"></div>
<div style="left:1507.0px;top:468.9px;width:100.4px;height:49.6px;background:#1606ff;"></div>
<div style="left:1607.0px;top:468.9px;width:100.4px;height:49.6px;background:#210dff;"></div>
<div style="left:1507.0px;top:518.1px;width:100.4px;height:49.6px;background:#5f36ff;"></div>
<div style="left:1607.0px;top:518.1px;width:100.4px;height:49.6px;background:#693eff;"></div>
<div style="left:1507.0px;top:567.4px;width:100.4px;height:49.6px;background:#653cff;"></div>
<div style="left:1607.0px;top:567.4px;width:100.4px;height:49.6px;background:#6239ff;"></div>
<div style="left:1507.0px;top:616.6px;width:100.4px;height:49.6px;background:#542eff;"></div>
<div style="left:1607.0px;top:616.6px;width:100.4px;height:49.6px;background:#9467ff;"></div>
<div style="left:1507.0px;top:665.9px;width:100.4px;height:49.6px;background:#653cff;"></div>
<div style="left:1607.0px;top:665.9px;width:100.4px;height:49.6px;background:#9a6eff;"></div>
<div style="left:1507.0px;top:715.1px;width:100.4px;height:49.6px;background:#8457ff;"></div>
<div style="left:1607.0px;top:715.1px;width:100.4px;height:49.6px;background:#9a6eff;"></div>
<div style="left:1507.0px;top:764.3px;width:100.4px;height:49.6px;background:#dac2ff;"></div>
<div style="left:1607.0px;top:764.3px;width:100.4px;height:49.6px;background:#ac83ff;"></div>
<div style="left:1507.0px;top:813.6px;width:100.4px;height:49.6px;background:#d7bdff;"></div>
<div style="left:1607.0px;top:813.6px;width:100.4px;height:49.6px;background:#bb96ff;"></div>
<div style="left:1507.0px;top:862.8px;width:100.4px;height:49.6px;background:#ffa68b;"></div>
<div style="left:1607.0px;top:862.8px;width:100.4px;height:49.6px;background:#ffac92;"></div>
<div style="left:1507.0px;top:912.1px;width:100.4px;height:49.6px;background:#ffb097;"></div>
<div style="left:1607.0px;top:912.1px;width:100.4px;height:49.6px;background:#ff8969;"></div>
<div style="left:1507.0px;top:961.3px;width:100.4px;height:49.6px;background:#ffcbba;"></div>
<div style="left:1607.0px;top:961.3px;width:100.4px;height:49.6px;background:#ff4d2e;"></div>
<div style="left:1507.0px;top:1010.5px;width:100.4px;height:49.6px;background:#ffa286;"></div>
<div style="left:1607.0px;top:1010.5px;width:100.4px;height:49.6px;background:#ff4d2e;"></div>
<div style="left:1507.0px;top:1059.8px;width:100.4px;height:49.6px;background:#ff4427;"></div>
<div style="left:1607.0px;top:1059.8px;width:100.4px;height:49.6px;background:#ffa286;"></div>
<div style="left:1507.0px;top:1109.0px;width:100.4px;height:49.6px;background:#ffdfd3;"></div>
<div style="left:1607.0px;top:1109.0px;width:100.4px;height:49.6px;background:#ff0000;"></div>
<div style="left:1507.0px;top:1158.3px;width:100.4px;height:49.2px;background:#ff0000;"></div>
<div style="left:1607.0px;top:1158.3px;width:100.4px;height:49.2px;background:#ff5b3a;"></div>
<div style="left:1555.7px;top:209.0px;width:2.6px;height:8.4px;background:#3a3a3a;"></div>
<div class="t" style="left:1339.5px;top:164.7px;width:200px;text-align:right;font-size:38.6px;line-height:38.6px;color:#474747;transform-origin:200px 32.67px;transform:rotate(90deg) scaleX(0.910);">D1</div>
<div style="left:1655.7px;top:209.0px;width:2.6px;height:8.4px;background:#3a3a3a;"></div>
<div class="t" style="left:1439.5px;top:164.7px;width:200px;text-align:right;font-size:38.6px;line-height:38.6px;color:#474747;transform-origin:200px 32.67px;transform:rotate(90deg) scaleX(0.910);">D2</div>
<div style="left:1738.2px;top:217.4px;width:217.5px;height:994.4px;background:#ebebeb;"></div>
<div style="left:1738.2px;top:246.2px;width:217.5px;height:2.2px;background:#ffffff;"></div>
<div style="left:1738.2px;top:295.5px;width:217.5px;height:2.2px;background:#ffffff;"></div>
<div style="left:1738.2px;top:344.7px;width:217.5px;height:2.2px;background:#ffffff;"></div>
<div style="left:1738.2px;top:393.9px;width:217.5px;height:2.2px;background:#ffffff;"></div>
<div style="left:1738.2px;top:443.2px;width:217.5px;height:2.2px;background:#ffffff;"></div>
<div style="left:1738.2px;top:492.4px;width:217.5px;height:2.2px;background:#ffffff;"></div>
<div style="left:1738.2px;top:541.7px;width:217.5px;height:2.2px;background:#ffffff;"></div>
<div style="left:1738.2px;top:590.9px;width:217.5px;height:2.2px;background:#ffffff;"></div>
<div style="left:1738.2px;top:640.1px;width:217.5px;height:2.2px;background:#ffffff;"></div>
<div style="left:1738.2px;top:689.4px;width:217.5px;height:2.2px;background:#ffffff;"></div>
<div style="left:1738.2px;top:738.6px;width:217.5px;height:2.2px;background:#ffffff;"></div>
<div style="left:1738.2px;top:787.9px;width:217.5px;height:2.2px;background:#ffffff;"></div>
<div style="left:1738.2px;top:837.1px;width:217.5px;height:2.2px;background:#ffffff;"></div>
<div style="left:1738.2px;top:886.3px;width:217.5px;height:2.2px;background:#ffffff;"></div>
<div style="left:1738.2px;top:935.6px;width:217.5px;height:2.2px;background:#ffffff;"></div>
<div style="left:1738.2px;top:984.8px;width:217.5px;height:2.2px;background:#ffffff;"></div>
<div style="left:1738.2px;top:1034.1px;width:217.5px;height:2.2px;background:#ffffff;"></div>
<div style="left:1738.2px;top:1083.3px;width:217.5px;height:2.2px;background:#ffffff;"></div>
<div style="left:1738.2px;top:1132.5px;width:217.5px;height:2.2px;background:#ffffff;"></div>
<div style="left:1738.2px;top:1181.8px;width:217.5px;height:2.2px;background:#ffffff;"></div>
<div style="left:1794.2px;top:217.4px;width:2.2px;height:994.4px;background:#ffffff;"></div>
<div style="left:1894.5px;top:217.4px;width:2.2px;height:994.4px;background:#ffffff;"></div>
<div style="left:1745.1px;top:222.7px;width:100.8px;height:49.6px;background:#ff0000;"></div>
<div style="left:1845.4px;top:222.7px;width:100.8px;height:49.6px;background:#ffac92;"></div>
<div style="left:1745.1px;top:271.9px;width:100.8px;height:49.6px;background:#ff0000;"></div>
<div style="left:1845.4px;top:271.9px;width:100.8px;height:49.6px;background:#bd98ff;"></div>
<div style="left:1745.1px;top:321.2px;width:100.8px;height:49.6px;background:#ff0000;"></div>
<div style="left:1845.4px;top:321.2px;width:100.8px;height:49.6px;background:#ffbca6;"></div>
<div style="left:1745.1px;top:370.4px;width:100.8px;height:49.6px;background:#ff0000;"></div>
<div style="left:1845.4px;top:370.4px;width:100.8px;height:49.6px;background:#c9a8ff;"></div>
<div style="left:1745.1px;top:419.7px;width:100.8px;height:49.6px;background:#ff0000;"></div>
<div style="left:1845.4px;top:419.7px;width:100.8px;height:49.6px;background:#ddc6ff;"></div>
<div style="left:1745.1px;top:468.9px;width:100.8px;height:49.6px;background:#ff7857;"></div>
<div style="left:1845.4px;top:468.9px;width:100.8px;height:49.6px;background:#ff0000;"></div>
<div style="left:1745.1px;top:518.1px;width:100.8px;height:49.6px;background:#ff6846;"></div>
<div style="left:1845.4px;top:518.1px;width:100.8px;height:49.6px;background:#ff3219;"></div>
<div style="left:1745.1px;top:567.4px;width:100.8px;height:49.6px;background:#ff0000;"></div>
<div style="left:1845.4px;top:567.4px;width:100.8px;height:49.6px;background:#f8f3ff;"></div>
<div style="left:1745.1px;top:616.6px;width:100.8px;height:49.6px;background:#ff0000;"></div>
<div style="left:1845.4px;top:616.6px;width:100.8px;height:49.6px;background:#ffdfd3;"></div>
<div style="left:1745.1px;top:665.9px;width:100.8px;height:49.6px;background:#ff9071;"></div>
<div style="left:1845.4px;top:665.9px;width:100.8px;height:49.6px;background:#ff4a2c;"></div>
<div style="left:1745.1px;top:715.1px;width:100.8px;height:49.6px;background:#ff7e5e;"></div>
<div style="left:1845.4px;top:715.1px;width:100.8px;height:49.6px;background:#ff6846;"></div>
<div style="left:1745.1px;top:764.3px;width:100.8px;height:49.6px;background:#ffe2d8;"></div>
<div style="left:1845.4px;top:764.3px;width:100.8px;height:49.6px;background:#ff7e5e;"></div>
<div style="left:1745.1px;top:813.6px;width:100.8px;height:49.6px;background:#ffe2d8;"></div>
<div style="left:1845.4px;top:813.6px;width:100.8px;height:49.6px;background:#ff8969;"></div>
<div style="left:1745.1px;top:862.8px;width:100.8px;height:49.6px;background:#d4b8ff;"></div>
<div style="left:1845.4px;top:862.8px;width:100.8px;height:49.6px;background:#a87fff;"></div>
<div style="left:1745.1px;top:912.1px;width:100.8px;height:49.6px;background:#c4a1ff;"></div>
<div style="left:1845.4px;top:912.1px;width:100.8px;height:49.6px;background:#9467ff;"></div>
<div style="left:1745.1px;top:961.3px;width:100.8px;height:49.6px;background:#a378ff;"></div>
<div style="left:1845.4px;top:961.3px;width:100.8px;height:49.6px;background:#a87fff;"></div>
<div style="left:1745.1px;top:1010.5px;width:100.8px;height:49.6px;background:#895cff;"></div>
<div style="left:1845.4px;top:1010.5px;width:100.8px;height:49.6px;background:#9063ff;"></div>
<div style="left:1745.1px;top:1059.8px;width:100.8px;height:49.6px;background:#542eff;"></div>
<div style="left:1845.4px;top:1059.8px;width:100.8px;height:49.6px;background:#ac83ff;"></div>
<div style="left:1745.1px;top:1109.0px;width:100.8px;height:49.6px;background:#1606ff;"></div>
<div style="left:1845.4px;top:1109.0px;width:100.8px;height:49.6px;background:#4322ff;"></div>
<div style="left:1745.1px;top:1158.3px;width:100.8px;height:49.2px;background:#1606ff;"></div>
<div style="left:1845.4px;top:1158.3px;width:100.8px;height:49.2px;background:#1606ff;"></div>
<div style="left:1794.0px;top:209.0px;width:2.6px;height:8.4px;background:#3a3a3a;"></div>
<div class="t" style="left:1577.8px;top:164.7px;width:200px;text-align:right;font-size:38.6px;line-height:38.6px;color:#474747;transform-origin:200px 32.67px;transform:rotate(90deg) scaleX(0.910);">R1</div>
<div style="left:1894.3px;top:209.0px;width:2.6px;height:8.4px;background:#3a3a3a;"></div>
<div class="t" style="left:1678.1px;top:164.7px;width:200px;text-align:right;font-size:38.6px;line-height:38.6px;color:#474747;transform-origin:200px 32.67px;transform:rotate(90deg) scaleX(0.910);">R2</div>
<div style="left:1485.2px;top:245.9px;width:10.5px;height:2.8px;background:#3a3a3a;"></div>
<div class="t" style="right:576.9px;top:231.3px;font-size:38.8px;line-height:38.8px;color:#464646;font-weight:bold;">hsa-mIR-183-5p</div>
<div style="left:1485.2px;top:295.2px;width:10.5px;height:2.8px;background:#3a3a3a;"></div>
<div class="t" style="right:576.9px;top:280.5px;font-size:38.8px;line-height:38.8px;color:#464646;font-weight:bold;">hsa-mIR-150-3p</div>
<div style="left:1485.2px;top:344.4px;width:10.5px;height:2.8px;background:#3a3a3a;"></div>
<div class="t" style="right:576.9px;top:329.8px;font-size:38.8px;line-height:38.8px;color:#464646;font-weight:bold;">hsa-mIR-193a-5p</div>
<div style="left:1485.2px;top:393.6px;width:10.5px;height:2.8px;background:#3a3a3a;"></div>
<div class="t" style="right:576.9px;top:379.0px;font-size:38.8px;line-height:38.8px;color:#464646;font-weight:bold;">hsa-mIR-424-3p</div>
<div style="left:1485.2px;top:442.9px;width:10.5px;height:2.8px;background:#3a3a3a;"></div>
<div class="t" style="right:576.9px;top:428.2px;font-size:38.8px;line-height:38.8px;color:#464646;font-weight:bold;">hsa-mIR-484</div>
<div style="left:1485.2px;top:492.1px;width:10.5px;height:2.8px;background:#3a3a3a;"></div>
<div class="t" style="right:576.9px;top:477.5px;font-size:38.8px;line-height:38.8px;color:#464646;font-weight:bold;">hsa-mIR-125a-5p</div>
<div style="left:1485.2px;top:541.4px;width:10.5px;height:2.8px;background:#3a3a3a;"></div>
<div class="t" style="right:576.9px;top:526.7px;font-size:38.8px;line-height:38.8px;color:#464646;font-weight:bold;">hsa-mIR-143-3p</div>
<div style="left:1485.2px;top:590.6px;width:10.5px;height:2.8px;background:#3a3a3a;"></div>
<div class="t" style="right:576.9px;top:576.0px;font-size:38.8px;line-height:38.8px;color:#464646;font-weight:bold;">hsa-mIR-342-3p</div>
<div style="left:1485.2px;top:639.8px;width:10.5px;height:2.8px;background:#3a3a3a;"></div>
<div class="t" style="right:576.9px;top:625.2px;font-size:38.8px;line-height:38.8px;color:#464646;font-weight:bold;">hsa-mIR-148a-3p</div>
<div style="left:1485.2px;top:689.1px;width:10.5px;height:2.8px;background:#3a3a3a;"></div>
<div class="t" style="right:576.9px;top:674.4px;font-size:38.8px;line-height:38.8px;color:#464646;font-weight:bold;">hsa-mIR-22-3p</div>
<div style="left:1485.2px;top:738.3px;width:10.5px;height:2.8px;background:#3a3a3a;"></div>
<div class="t" style="right:576.9px;top:723.7px;font-size:38.8px;line-height:38.8px;color:#464646;font-weight:bold;">hsa-mIR-146b-5p</div>
<div style="left:1485.2px;top:787.6px;width:10.5px;height:2.8px;background:#3a3a3a;"></div>
<div class="t" style="right:576.9px;top:772.9px;font-size:38.8px;line-height:38.8px;color:#464646;font-weight:bold;">hsa-mIR-21-5p</div>
<div style="left:1485.2px;top:836.8px;width:10.5px;height:2.8px;background:#3a3a3a;"></div>
<div class="t" style="right:576.9px;top:822.2px;font-size:38.8px;line-height:38.8px;color:#464646;font-weight:bold;">hsa-mIR-223-3p</div>
<div style="left:1485.2px;top:886.0px;width:10.5px;height:2.8px;background:#3a3a3a;"></div>
<div class="t" style="right:576.9px;top:871.4px;font-size:38.8px;line-height:38.8px;color:#464646;font-weight:bold;">hsa-mIR-155-5p</div>
<div style="left:1485.2px;top:935.3px;width:10.5px;height:2.8px;background:#3a3a3a;"></div>
<div class="t" style="right:576.9px;top:920.6px;font-size:38.8px;line-height:38.8px;color:#464646;font-weight:bold;">hsa-mIR-181b-5p</div>
<div style="left:1485.2px;top:984.5px;width:10.5px;height:2.8px;background:#3a3a3a;"></div>
<div class="t" style="right:576.9px;top:969.9px;font-size:38.8px;line-height:38.8px;color:#464646;font-weight:bold;">hsa-mIR-146a-5p</div>
<div style="left:1485.2px;top:1033.8px;width:10.5px;height:2.8px;background:#3a3a3a;"></div>
<div class="t" style="right:576.9px;top:1019.1px;font-size:38.8px;line-height:38.8px;color:#464646;font-weight:bold;">hsa-mIR-181a-5p</div>
<div style="left:1485.2px;top:1083.0px;width:10.5px;height:2.8px;background:#3a3a3a;"></div>
<div class="t" style="right:576.9px;top:1068.4px;font-size:38.8px;line-height:38.8px;color:#464646;font-weight:bold;">hsa-mIR-222-3p</div>
<div style="left:1485.2px;top:1132.2px;width:10.5px;height:2.8px;background:#3a3a3a;"></div>
<div class="t" style="right:576.9px;top:1117.6px;font-size:38.8px;line-height:38.8px;color:#464646;font-weight:bold;">hsa-mIR-335-3p</div>
<div style="left:1485.2px;top:1181.5px;width:10.5px;height:2.8px;background:#3a3a3a;"></div>
<div class="t" style="right:576.9px;top:1166.8px;font-size:38.8px;line-height:38.8px;color:#464646;font-weight:bold;">hsa-mIR-27a-5p</div>
<div class="t" style="left:1983.7px;top:467.6px;width:400px;text-align:center;font-size:56.0px;line-height:56.0px;color:#000;font-weight:normal;transform-origin:0 47.40px;transform:rotate(90deg);">Patient 3</div>
<div style="left:1518.0px;top:1360.6px;width:209.5px;height:68.2px;background:#d9d9d9;"></div>
<div class="t" style="left:1622.8px;width:0;display:flex;justify-content:center;top:1381.5px;font-size:38.6px;line-height:38.6px;color:#2c2c2c;font-weight:normal;">Diagnosis</div>
<div style="left:1747.1px;top:1360.6px;width:210.3px;height:68.2px;background:#d9d9d9;"></div>
<div class="t" style="left:1852.2px;width:0;display:flex;justify-content:center;top:1381.5px;font-size:38.6px;line-height:38.6px;color:#2c2c2c;font-weight:normal;">Relapse</div>
<div class="t" style="left:1737.7px;width:0;display:flex;justify-content:center;top:1307.9px;font-size:45.0px;line-height:45.0px;color:#111;font-weight:normal;">Sample</div>
<div style="left:1518.0px;top:1504.6px;width:209.5px;height:982.7px;background:#ebebeb;"></div>
<div style="left:1518.0px;top:1531.2px;width:209.5px;height:2.2px;background:#ffffff;"></div>
<div style="left:1518.0px;top:1575.5px;width:209.5px;height:2.2px;background:#ffffff;"></div>
<div style="left:1518.0px;top:1619.9px;width:209.5px;height:2.2px;background:#ffffff;"></div>
<div style="left:1518.0px;top:1664.2px;width:209.5px;height:2.2px;background:#ffffff;"></div>
<div style="left:1518.0px;top:1708.6px;width:209.5px;height:2.2px;background:#ffffff;"></div>
<div style="left:1518.0px;top:1752.9px;width:209.5px;height:2.2px;background:#ffffff;"></div>
<div style="left:1518.0px;top:1797.3px;width:209.5px;height:2.2px;background:#ffffff;"></div>
<div style="left:1518.0px;top:1841.6px;width:209.5px;height:2.2px;background:#ffffff;"></div>
<div style="left:1518.0px;top:1886.0px;width:209.5px;height:2.2px;background:#ffffff;"></div>
<div style="left:1518.0px;top:1930.3px;width:209.5px;height:2.2px;background:#ffffff;"></div>
<div style="left:1518.0px;top:1974.7px;width:209.5px;height:2.2px;background:#ffffff;"></div>
<div style="left:1518.0px;top:2019.0px;width:209.5px;height:2.2px;background:#ffffff;"></div>
<div style="left:1518.0px;top:2063.4px;width:209.5px;height:2.2px;background:#ffffff;"></div>
<div style="left:1518.0px;top:2107.7px;width:209.5px;height:2.2px;background:#ffffff;"></div>
<div style="left:1518.0px;top:2152.1px;width:209.5px;height:2.2px;background:#ffffff;"></div>
<div style="left:1518.0px;top:2196.4px;width:209.5px;height:2.2px;background:#ffffff;"></div>
<div style="left:1518.0px;top:2240.8px;width:209.5px;height:2.2px;background:#ffffff;"></div>
<div style="left:1518.0px;top:2285.1px;width:209.5px;height:2.2px;background:#ffffff;"></div>
<div style="left:1518.0px;top:2329.5px;width:209.5px;height:2.2px;background:#ffffff;"></div>
<div style="left:1518.0px;top:2373.8px;width:209.5px;height:2.2px;background:#ffffff;"></div>
<div style="left:1518.0px;top:2418.2px;width:209.5px;height:2.2px;background:#ffffff;"></div>
<div style="left:1518.0px;top:2462.5px;width:209.5px;height:2.2px;background:#ffffff;"></div>
<div style="left:1574.5px;top:1504.6px;width:2.2px;height:982.7px;background:#ffffff;"></div>
<div style="left:1668.8px;top:1504.6px;width:2.2px;height:982.7px;background:#ffffff;"></div>
<div style="left:1528.5px;top:1510.1px;width:94.7px;height:44.8px;background:#1606ff;"></div>
<div style="left:1622.8px;top:1510.1px;width:94.7px;height:44.8px;background:#1606ff;"></div>
<div style="left:1528.5px;top:1554.4px;width:94.7px;height:44.8px;background:#1606ff;"></div>
<div style="left:1622.8px;top:1554.4px;width:94.7px;height:44.8px;background:#1606ff;"></div>
<div style="left:1528.5px;top:1598.8px;width:94.7px;height:44.8px;background:#1606ff;"></div>
<div style="left:1622.8px;top:1598.8px;width:94.7px;height:44.8px;background:#1606ff;"></div>
<div style="left:1528.5px;top:1643.1px;width:94.7px;height:44.8px;background:#1606ff;"></div>
<div style="left:1622.8px;top:1643.1px;width:94.7px;height:44.8px;background:#1606ff;"></div>
<div style="left:1528.5px;top:1687.5px;width:94.7px;height:44.8px;background:#1606ff;"></div>
<div style="left:1622.8px;top:1687.5px;width:94.7px;height:44.8px;background:#1606ff;"></div>
<div style="left:1528.5px;top:1731.8px;width:94.7px;height:44.8px;background:#1606ff;"></div>
<div style="left:1622.8px;top:1731.8px;width:94.7px;height:44.8px;background:#1606ff;"></div>
<div style="left:1528.5px;top:1776.2px;width:94.7px;height:44.8px;background:#1606ff;"></div>
<div style="left:1622.8px;top:1776.2px;width:94.7px;height:44.8px;background:#1606ff;"></div>
<div style="left:1528.5px;top:1820.5px;width:94.7px;height:44.8px;background:#3217ff;"></div>
<div style="left:1622.8px;top:1820.5px;width:94.7px;height:44.8px;background:#1606ff;"></div>
<div style="left:1528.5px;top:1864.9px;width:94.7px;height:44.8px;background:#3e1eff;"></div>
<div style="left:1622.8px;top:1864.9px;width:94.7px;height:44.8px;background:#3e1eff;"></div>
<div style="left:1528.5px;top:1909.2px;width:94.7px;height:44.8px;background:#6239ff;"></div>
<div style="left:1622.8px;top:1909.2px;width:94.7px;height:44.8px;background:#a378ff;"></div>
<div style="left:1528.5px;top:1953.6px;width:94.7px;height:44.8px;background:#a87fff;"></div>
<div style="left:1622.8px;top:1953.6px;width:94.7px;height:44.8px;background:#895cff;"></div>
<div style="left:1528.5px;top:1997.9px;width:94.7px;height:44.8px;background:#ffcbba;"></div>
<div style="left:1622.8px;top:1997.9px;width:94.7px;height:44.8px;background:#ffa286;"></div>
<div style="left:1528.5px;top:2042.3px;width:94.7px;height:44.8px;background:#ff6846;"></div>
<div style="left:1622.8px;top:2042.3px;width:94.7px;height:44.8px;background:#ffa286;"></div>
<div style="left:1528.5px;top:2086.7px;width:94.7px;height:44.8px;background:#ff3e22;"></div>
<div style="left:1622.8px;top:2086.7px;width:94.7px;height:44.8px;background:#ffac92;"></div>
<div style="left:1528.5px;top:2131.0px;width:94.7px;height:44.8px;background:#ffdfd3;"></div>
<div style="left:1622.8px;top:2131.0px;width:94.7px;height:44.8px;background:#ff0000;"></div>
<div style="left:1528.5px;top:2175.3px;width:94.7px;height:44.8px;background:#ff6846;"></div>
<div style="left:1622.8px;top:2175.3px;width:94.7px;height:44.8px;background:#ff5636;"></div>
<div style="left:1528.5px;top:2219.7px;width:94.7px;height:44.8px;background:#ff6846;"></div>
<div style="left:1622.8px;top:2219.7px;width:94.7px;height:44.8px;background:#ff5636;"></div>
<div style="left:1528.5px;top:2264.1px;width:94.7px;height:44.8px;background:#ff9071;"></div>
<div style="left:1622.8px;top:2264.1px;width:94.7px;height:44.8px;background:#ff0000;"></div>
<div style="left:1528.5px;top:2308.4px;width:94.7px;height:44.8px;background:#ff8969;"></div>
<div style="left:1622.8px;top:2308.4px;width:94.7px;height:44.8px;background:#ff0000;"></div>
<div style="left:1528.5px;top:2352.8px;width:94.7px;height:44.8px;background:#ff3e22;"></div>
<div style="left:1622.8px;top:2352.8px;width:94.7px;height:44.8px;background:#ff0000;"></div>
<div style="left:1528.5px;top:2397.1px;width:94.7px;height:44.8px;background:#ff0000;"></div>
<div style="left:1622.8px;top:2397.1px;width:94.7px;height:44.8px;background:#ff7e5e;"></div>
<div style="left:1528.5px;top:2441.4px;width:94.7px;height:41.6px;background:#ff6f4d;"></div>
<div style="left:1622.8px;top:2441.4px;width:94.7px;height:41.6px;background:#ff0000;"></div>
<div style="left:1574.3px;top:1496.2px;width:2.6px;height:8.4px;background:#3a3a3a;"></div>
<div class="t" style="left:1358.1px;top:1451.9px;width:200px;text-align:right;font-size:38.6px;line-height:38.6px;color:#474747;transform-origin:200px 32.67px;transform:rotate(90deg) scaleX(0.910);">D1</div>
<div style="left:1668.6px;top:1496.2px;width:2.6px;height:8.4px;background:#3a3a3a;"></div>
<div class="t" style="left:1452.4px;top:1451.9px;width:200px;text-align:right;font-size:38.6px;line-height:38.6px;color:#474747;transform-origin:200px 32.67px;transform:rotate(90deg) scaleX(0.910);">D2</div>
<div style="left:1747.1px;top:1504.6px;width:210.3px;height:982.7px;background:#ebebeb;"></div>
<div style="left:1747.1px;top:1531.2px;width:210.3px;height:2.2px;background:#ffffff;"></div>
<div style="left:1747.1px;top:1575.5px;width:210.3px;height:2.2px;background:#ffffff;"></div>
<div style="left:1747.1px;top:1619.9px;width:210.3px;height:2.2px;background:#ffffff;"></div>
<div style="left:1747.1px;top:1664.2px;width:210.3px;height:2.2px;background:#ffffff;"></div>
<div style="left:1747.1px;top:1708.6px;width:210.3px;height:2.2px;background:#ffffff;"></div>
<div style="left:1747.1px;top:1752.9px;width:210.3px;height:2.2px;background:#ffffff;"></div>
<div style="left:1747.1px;top:1797.3px;width:210.3px;height:2.2px;background:#ffffff;"></div>
<div style="left:1747.1px;top:1841.6px;width:210.3px;height:2.2px;background:#ffffff;"></div>
<div style="left:1747.1px;top:1886.0px;width:210.3px;height:2.2px;background:#ffffff;"></div>
<div style="left:1747.1px;top:1930.3px;width:210.3px;height:2.2px;background:#ffffff;"></div>
<div style="left:1747.1px;top:1974.7px;width:210.3px;height:2.2px;background:#ffffff;"></div>
<div style="left:1747.1px;top:2019.0px;width:210.3px;height:2.2px;background:#ffffff;"></div>
<div style="left:1747.1px;top:2063.4px;width:210.3px;height:2.2px;background:#ffffff;"></div>
<div style="left:1747.1px;top:2107.7px;width:210.3px;height:2.2px;background:#ffffff;"></div>
<div style="left:1747.1px;top:2152.1px;width:210.3px;height:2.2px;background:#ffffff;"></div>
<div style="left:1747.1px;top:2196.4px;width:210.3px;height:2.2px;background:#ffffff;"></div>
<div style="left:1747.1px;top:2240.8px;width:210.3px;height:2.2px;background:#ffffff;"></div>
<div style="left:1747.1px;top:2285.1px;width:210.3px;height:2.2px;background:#ffffff;"></div>
<div style="left:1747.1px;top:2329.5px;width:210.3px;height:2.2px;background:#ffffff;"></div>
<div style="left:1747.1px;top:2373.8px;width:210.3px;height:2.2px;background:#ffffff;"></div>
<div style="left:1747.1px;top:2418.2px;width:210.3px;height:2.2px;background:#ffffff;"></div>
<div style="left:1747.1px;top:2462.5px;width:210.3px;height:2.2px;background:#ffffff;"></div>
<div style="left:1803.7px;top:1504.6px;width:2.2px;height:982.7px;background:#ffffff;"></div>
<div style="left:1898.4px;top:1504.6px;width:2.2px;height:982.7px;background:#ffffff;"></div>
<div style="left:1757.4px;top:1510.1px;width:95.1px;height:44.8px;background:#fff7f5;"></div>
<div style="left:1852.1px;top:1510.1px;width:95.1px;height:44.8px;background:#ff0000;"></div>
<div style="left:1757.4px;top:1554.4px;width:95.1px;height:44.8px;background:#b28aff;"></div>
<div style="left:1852.1px;top:1554.4px;width:95.1px;height:44.8px;background:#ff0000;"></div>
<div style="left:1757.4px;top:1598.8px;width:95.1px;height:44.8px;background:#fcfaff;"></div>
<div style="left:1852.1px;top:1598.8px;width:95.1px;height:44.8px;background:#ff0000;"></div>
<div style="left:1757.4px;top:1643.1px;width:95.1px;height:44.8px;background:#fffbfa;"></div>
<div style="left:1852.1px;top:1643.1px;width:95.1px;height:44.8px;background:#ff0000;"></div>
<div style="left:1757.4px;top:1687.5px;width:95.1px;height:44.8px;background:#ff0000;"></div>
<div style="left:1852.1px;top:1687.5px;width:95.1px;height:44.8px;background:#ceafff;"></div>
<div style="left:1757.4px;top:1731.8px;width:95.1px;height:44.8px;background:#ffb097;"></div>
<div style="left:1852.1px;top:1731.8px;width:95.1px;height:44.8px;background:#ff0000;"></div>
<div style="left:1757.4px;top:1776.2px;width:95.1px;height:44.8px;background:#ff6846;"></div>
<div style="left:1852.1px;top:1776.2px;width:95.1px;height:44.8px;background:#ff0000;"></div>
<div style="left:1757.4px;top:1820.5px;width:95.1px;height:44.8px;background:#9f73ff;"></div>
<div style="left:1852.1px;top:1820.5px;width:95.1px;height:44.8px;background:#ff0000;"></div>
<div style="left:1757.4px;top:1864.9px;width:95.1px;height:44.8px;background:#ff0000;"></div>
<div style="left:1852.1px;top:1864.9px;width:95.1px;height:44.8px;background:#ff9475;"></div>
<div style="left:1757.4px;top:1909.2px;width:95.1px;height:44.8px;background:#ff0000;"></div>
<div style="left:1852.1px;top:1909.2px;width:95.1px;height:44.8px;background:#ffc6b2;"></div>
<div style="left:1757.4px;top:1953.6px;width:95.1px;height:44.8px;background:#ff0000;"></div>
<div style="left:1852.1px;top:1953.6px;width:95.1px;height:44.8px;background:#ffece5;"></div>
<div style="left:1757.4px;top:1997.9px;width:95.1px;height:44.8px;background:#b28aff;"></div>
<div style="left:1852.1px;top:1997.9px;width:95.1px;height:44.8px;background:#dac2ff;"></div>
<div style="left:1757.4px;top:2042.3px;width:95.1px;height:44.8px;background:#9f73ff;"></div>
<div style="left:1852.1px;top:2042.3px;width:95.1px;height:44.8px;background:#9f73ff;"></div>
<div style="left:1757.4px;top:2086.7px;width:95.1px;height:44.8px;background:#895cff;"></div>
<div style="left:1852.1px;top:2086.7px;width:95.1px;height:44.8px;background:#966aff;"></div>
<div style="left:1757.4px;top:2131.0px;width:95.1px;height:44.8px;background:#9063ff;"></div>
<div style="left:1852.1px;top:2131.0px;width:95.1px;height:44.8px;background:#542eff;"></div>
<div style="left:1757.4px;top:2175.3px;width:95.1px;height:44.8px;background:#9063ff;"></div>
<div style="left:1852.1px;top:2175.3px;width:95.1px;height:44.8px;background:#542eff;"></div>
<div style="left:1757.4px;top:2219.7px;width:95.1px;height:44.8px;background:#7c50ff;"></div>
<div style="left:1852.1px;top:2219.7px;width:95.1px;height:44.8px;background:#6239ff;"></div>
<div style="left:1757.4px;top:2264.1px;width:95.1px;height:44.8px;background:#6239ff;"></div>
<div style="left:1852.1px;top:2264.1px;width:95.1px;height:44.8px;background:#7c50ff;"></div>
<div style="left:1757.4px;top:2308.4px;width:95.1px;height:44.8px;background:#7a4dff;"></div>
<div style="left:1852.1px;top:2308.4px;width:95.1px;height:44.8px;background:#6c41ff;"></div>
<div style="left:1757.4px;top:2352.8px;width:95.1px;height:44.8px;background:#1606ff;"></div>
<div style="left:1852.1px;top:2352.8px;width:95.1px;height:44.8px;background:#1606ff;"></div>
<div style="left:1757.4px;top:2397.1px;width:95.1px;height:44.8px;background:#1606ff;"></div>
<div style="left:1852.1px;top:2397.1px;width:95.1px;height:44.8px;background:#1606ff;"></div>
<div style="left:1757.4px;top:2441.4px;width:95.1px;height:41.6px;background:#1606ff;"></div>
<div style="left:1852.1px;top:2441.4px;width:95.1px;height:41.6px;background:#1606ff;"></div>
<div style="left:1803.5px;top:1496.2px;width:2.6px;height:8.4px;background:#3a3a3a;"></div>
<div class="t" style="left:1587.2px;top:1451.9px;width:200px;text-align:right;font-size:38.6px;line-height:38.6px;color:#474747;transform-origin:200px 32.67px;transform:rotate(90deg) scaleX(0.910);">R1</div>
<div style="left:1898.2px;top:1496.2px;width:2.6px;height:8.4px;background:#3a3a3a;"></div>
<div class="t" style="left:1682.0px;top:1451.9px;width:200px;text-align:right;font-size:38.6px;line-height:38.6px;color:#474747;transform-origin:200px 32.67px;transform:rotate(90deg) scaleX(0.910);">R2</div>
<div style="left:1506.0px;top:1530.9px;width:10.3px;height:2.8px;background:#3a3a3a;"></div>
<div class="t" style="right:556.8px;top:1516.7px;font-size:38.2px;line-height:38.2px;color:#464646;font-weight:bold;">hsa-mIR-140-5p</div>
<div style="left:1506.0px;top:1575.2px;width:10.3px;height:2.8px;background:#3a3a3a;"></div>
<div class="t" style="right:556.8px;top:1561.1px;font-size:38.2px;line-height:38.2px;color:#464646;font-weight:bold;">hsa-mIR-29b-1-5p</div>
<div style="left:1506.0px;top:1619.6px;width:10.3px;height:2.8px;background:#3a3a3a;"></div>
<div class="t" style="right:556.8px;top:1605.4px;font-size:38.2px;line-height:38.2px;color:#464646;font-weight:bold;">hsa-mIR-338-5p</div>
<div style="left:1506.0px;top:1663.9px;width:10.3px;height:2.8px;background:#3a3a3a;"></div>
<div class="t" style="right:556.8px;top:1649.8px;font-size:38.2px;line-height:38.2px;color:#464646;font-weight:bold;">hsa-mIR-941</div>
<div style="left:1506.0px;top:1708.3px;width:10.3px;height:2.8px;background:#3a3a3a;"></div>
<div class="t" style="right:556.8px;top:1694.1px;font-size:38.2px;line-height:38.2px;color:#464646;font-weight:bold;">hsa-mIR-424-3p</div>
<div style="left:1506.0px;top:1752.6px;width:10.3px;height:2.8px;background:#3a3a3a;"></div>
<div class="t" style="right:556.8px;top:1738.5px;font-size:38.2px;line-height:38.2px;color:#464646;font-weight:bold;">hsa-mIR-486-3p</div>
<div style="left:1506.0px;top:1797.0px;width:10.3px;height:2.8px;background:#3a3a3a;"></div>
<div class="t" style="right:556.8px;top:1782.8px;font-size:38.2px;line-height:38.2px;color:#464646;font-weight:bold;">hsa-mIR-148a-3p</div>
<div style="left:1506.0px;top:1841.3px;width:10.3px;height:2.8px;background:#3a3a3a;"></div>
<div class="t" style="right:556.8px;top:1827.2px;font-size:38.2px;line-height:38.2px;color:#464646;font-weight:bold;">hsa-mIR-182-5p</div>
<div style="left:1506.0px;top:1885.7px;width:10.3px;height:2.8px;background:#3a3a3a;"></div>
<div class="t" style="right:556.8px;top:1871.5px;font-size:38.2px;line-height:38.2px;color:#464646;font-weight:bold;">hsa-mIR-143-3p</div>
<div style="left:1506.0px;top:1930.0px;width:10.3px;height:2.8px;background:#3a3a3a;"></div>
<div class="t" style="right:556.8px;top:1915.9px;font-size:38.2px;line-height:38.2px;color:#464646;font-weight:bold;">hsa-mIR-197-3p</div>
<div style="left:1506.0px;top:1974.4px;width:10.3px;height:2.8px;background:#3a3a3a;"></div>
<div class="t" style="right:556.8px;top:1960.2px;font-size:38.2px;line-height:38.2px;color:#464646;font-weight:bold;">hsa-mIR-223-3p</div>
<div style="left:1506.0px;top:2018.7px;width:10.3px;height:2.8px;background:#3a3a3a;"></div>
<div class="t" style="right:556.8px;top:2004.6px;font-size:38.2px;line-height:38.2px;color:#464646;font-weight:bold;">hsa-mIR-92a-3p</div>
<div style="left:1506.0px;top:2063.1px;width:10.3px;height:2.8px;background:#3a3a3a;"></div>
<div class="t" style="right:556.8px;top:2048.9px;font-size:38.2px;line-height:38.2px;color:#464646;font-weight:bold;">hsa-mIR-221-3p</div>
<div style="left:1506.0px;top:2107.4px;width:10.3px;height:2.8px;background:#3a3a3a;"></div>
<div class="t" style="right:556.8px;top:2093.3px;font-size:38.2px;line-height:38.2px;color:#464646;font-weight:bold;">hsa-mIR-155-5p</div>
<div style="left:1506.0px;top:2151.8px;width:10.3px;height:2.8px;background:#3a3a3a;"></div>
<div class="t" style="right:556.8px;top:2137.6px;font-size:38.2px;line-height:38.2px;color:#464646;font-weight:bold;">hsa-mIR-181a-3p</div>
<div style="left:1506.0px;top:2196.1px;width:10.3px;height:2.8px;background:#3a3a3a;"></div>
<div class="t" style="right:556.8px;top:2182.0px;font-size:38.2px;line-height:38.2px;color:#464646;font-weight:bold;">hsa-mIR-146a-5p</div>
<div style="left:1506.0px;top:2240.5px;width:10.3px;height:2.8px;background:#3a3a3a;"></div>
<div class="t" style="right:556.8px;top:2226.3px;font-size:38.2px;line-height:38.2px;color:#464646;font-weight:bold;">hsa-mIR-126-3p</div>
<div style="left:1506.0px;top:2284.8px;width:10.3px;height:2.8px;background:#3a3a3a;"></div>
<div class="t" style="right:556.8px;top:2270.7px;font-size:38.2px;line-height:38.2px;color:#464646;font-weight:bold;">hsa-let-7c-5p</div>
<div style="left:1506.0px;top:2329.2px;width:10.3px;height:2.8px;background:#3a3a3a;"></div>
<div class="t" style="right:556.8px;top:2315.0px;font-size:38.2px;line-height:38.2px;color:#464646;font-weight:bold;">hsa-mIR-181b-5p</div>
<div style="left:1506.0px;top:2373.5px;width:10.3px;height:2.8px;background:#3a3a3a;"></div>
<div class="t" style="right:556.8px;top:2359.4px;font-size:38.2px;line-height:38.2px;color:#464646;font-weight:bold;">hsa-mIR-100-5p</div>
<div style="left:1506.0px;top:2417.9px;width:10.3px;height:2.8px;background:#3a3a3a;"></div>
<div class="t" style="right:556.8px;top:2403.7px;font-size:38.2px;line-height:38.2px;color:#464646;font-weight:bold;">hsa-mIR-335-3p</div>
<div style="left:1506.0px;top:2462.2px;width:10.3px;height:2.8px;background:#3a3a3a;"></div>
<div class="t" style="right:556.8px;top:2448.1px;font-size:38.2px;line-height:38.2px;color:#464646;font-weight:bold;">hsa-mIR-20a-5p</div>
<div class="t" style="left:1984.6px;top:1750.7px;width:400px;text-align:center;font-size:55.5px;line-height:55.5px;color:#000;font-weight:normal;transform-origin:0 46.98px;transform:rotate(90deg);">Patient 4</div>
<div style="left:965px;top:1383.5px;width:62.8px;height:278.3px;background:linear-gradient(to bottom,#ff0000 0.00%,#ff2913 2.50%,#ff3d21 5.00%,#ff4d2e 7.50%,#ff5b3a 10.00%,#ff6746 12.50%,#ff7352 15.00%,#ff7e5d 17.50%,#ff8969 20.00%,#ff9375 22.50%,#ff9d81 25.00%,#ffa78d 27.50%,#ffb199 30.00%,#ffbba5 32.50%,#ffc5b1 35.00%,#ffcebe 37.50%,#ffd8ca 40.00%,#ffe2d7 42.50%,#ffebe4 45.00%,#fff5f1 47.50%,#fffefe 50.00%,#f9f4ff 52.50%,#f2e8ff 55.00%,#ebddff 57.50%,#e4d1ff 60.00%,#ddc5ff 62.50%,#d5baff 65.00%,#cdaeff 67.50%,#c5a3ff 70.00%,#bc97ff 72.50%,#b38cff 75.00%,#aa80ff 77.50%,#a075ff 80.00%,#9669ff 82.50%,#8b5eff 85.00%,#7e52ff 87.50%,#7146ff 90.00%,#6239ff 92.50%,#502bff 95.00%,#381bff 97.50%,#0000ff 100.00%);"></div>
<div style="left:965.0px;top:1452.0px;width:10.5px;height:2.8px;background:#ffffff;"></div>
<div style="left:1015.0px;top:1452.0px;width:12.8px;height:2.8px;background:#ffffff;"></div>
<div style="left:965.0px;top:1521.9px;width:10.5px;height:2.8px;background:#ffffff;"></div>
<div style="left:1015.0px;top:1521.9px;width:12.8px;height:2.8px;background:#ffffff;"></div>
<div style="left:965.0px;top:1591.9px;width:10.5px;height:2.8px;background:#ffffff;"></div>
<div style="left:1015.0px;top:1591.9px;width:12.8px;height:2.8px;background:#ffffff;"></div>
<div class="t" style="left:1032.5px;top:1369.3px;font-size:34.5px;line-height:34.5px;color:#222;font-weight:normal;">≤2.00</div>
<div style="left:1034.5px;top:1450.1px;width:8.8px;height:2.6px;background:#222;"></div>
<div class="t" style="left:1051.5px;top:1437.8px;font-size:34.5px;line-height:34.5px;color:#222;font-weight:normal;">1.50</div>
<div style="left:1034.5px;top:1533.4px;width:8.8px;height:2.6px;background:#222;"></div>
<div class="t" style="left:1051.5px;top:1509.7px;font-size:34.5px;line-height:34.5px;color:#222;font-weight:normal;">1.00</div>
<div style="left:1034.5px;top:1596.7px;width:8.8px;height:2.6px;background:#222;"></div>
<div class="t" style="left:1051.5px;top:1580.2px;font-size:34.5px;line-height:34.5px;color:#222;font-weight:normal;">0.50</div>
<div style="left:1034.5px;top:1660.5px;width:8.8px;height:2.6px;background:#222;"></div>
<div class="t" style="left:1051.5px;top:1649.1px;font-size:34.5px;line-height:34.5px;color:#222;font-weight:normal;">0.01</div>
<div class="t" style="left:956.5px;top:1291.2px;font-size:48.0px;line-height:48.0px;color:#000;font-weight:bold;">Foldchange</div>
</body></html>
